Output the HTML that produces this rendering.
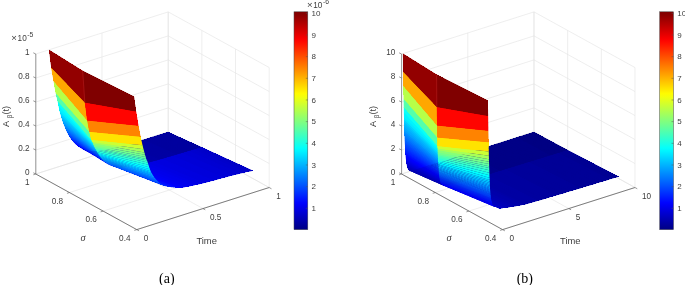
<!DOCTYPE html>
<html><head><meta charset="utf-8"><style>
html,body{margin:0;padding:0;background:#fff;}
body{width:685px;height:285px;overflow:hidden;}
svg{display:block;will-change:transform;}
</style></head><body>
<svg width="685" height="285" viewBox="0 0 685 285" font-family="Liberation Sans, sans-serif">
<defs><linearGradient id="jetg" x1="0" y1="0" x2="0" y2="1"><stop offset="0.0000" stop-color="#800000"/><stop offset="0.0156" stop-color="#8b0000"/><stop offset="0.0312" stop-color="#9b0000"/><stop offset="0.0469" stop-color="#ab0000"/><stop offset="0.0625" stop-color="#bb0000"/><stop offset="0.0781" stop-color="#cb0000"/><stop offset="0.0938" stop-color="#db0000"/><stop offset="0.1094" stop-color="#eb0000"/><stop offset="0.1250" stop-color="#fb0000"/><stop offset="0.1406" stop-color="#ff0c00"/><stop offset="0.1562" stop-color="#ff1c00"/><stop offset="0.1719" stop-color="#ff2c00"/><stop offset="0.1875" stop-color="#ff3c00"/><stop offset="0.2031" stop-color="#ff4c00"/><stop offset="0.2188" stop-color="#ff5c00"/><stop offset="0.2344" stop-color="#ff6c00"/><stop offset="0.2500" stop-color="#ff7c00"/><stop offset="0.2656" stop-color="#ff8b00"/><stop offset="0.2812" stop-color="#ff9b00"/><stop offset="0.2969" stop-color="#ffab00"/><stop offset="0.3125" stop-color="#ffbb00"/><stop offset="0.3281" stop-color="#ffcb00"/><stop offset="0.3438" stop-color="#ffdb00"/><stop offset="0.3594" stop-color="#ffeb00"/><stop offset="0.3750" stop-color="#fffb00"/><stop offset="0.3906" stop-color="#f3ff0c"/><stop offset="0.4062" stop-color="#e3ff1c"/><stop offset="0.4219" stop-color="#d3ff2c"/><stop offset="0.4375" stop-color="#c3ff3c"/><stop offset="0.4531" stop-color="#b3ff4c"/><stop offset="0.4688" stop-color="#a3ff5c"/><stop offset="0.4844" stop-color="#93ff6c"/><stop offset="0.5000" stop-color="#83ff7c"/><stop offset="0.5156" stop-color="#74ff8b"/><stop offset="0.5312" stop-color="#64ff9b"/><stop offset="0.5469" stop-color="#54ffab"/><stop offset="0.5625" stop-color="#44ffbb"/><stop offset="0.5781" stop-color="#34ffcb"/><stop offset="0.5938" stop-color="#24ffdb"/><stop offset="0.6094" stop-color="#14ffeb"/><stop offset="0.6250" stop-color="#04fffb"/><stop offset="0.6406" stop-color="#00f3ff"/><stop offset="0.6562" stop-color="#00e3ff"/><stop offset="0.6719" stop-color="#00d3ff"/><stop offset="0.6875" stop-color="#00c3ff"/><stop offset="0.7031" stop-color="#00b3ff"/><stop offset="0.7188" stop-color="#00a3ff"/><stop offset="0.7344" stop-color="#0093ff"/><stop offset="0.7500" stop-color="#0083ff"/><stop offset="0.7656" stop-color="#0074ff"/><stop offset="0.7812" stop-color="#0064ff"/><stop offset="0.7969" stop-color="#0054ff"/><stop offset="0.8125" stop-color="#0044ff"/><stop offset="0.8281" stop-color="#0034ff"/><stop offset="0.8438" stop-color="#0024ff"/><stop offset="0.8594" stop-color="#0014ff"/><stop offset="0.8750" stop-color="#0004ff"/><stop offset="0.8906" stop-color="#0000f3"/><stop offset="0.9062" stop-color="#0000e3"/><stop offset="0.9219" stop-color="#0000d3"/><stop offset="0.9375" stop-color="#0000c3"/><stop offset="0.9531" stop-color="#0000b3"/><stop offset="0.9688" stop-color="#0000a3"/><stop offset="0.9844" stop-color="#000093"/><stop offset="1.0000" stop-color="#000083"/></linearGradient></defs>
<g><line x1="136.78" y1="229.62" x2="35.80" y2="174.00" stroke="#e2e2e2" stroke-width="0.6"/><line x1="35.80" y1="174.00" x2="35.80" y2="54.00" stroke="#e2e2e2" stroke-width="0.6"/><line x1="202.98" y1="208.57" x2="102.00" y2="152.95" stroke="#e2e2e2" stroke-width="0.6"/><line x1="102.00" y1="152.95" x2="102.00" y2="32.95" stroke="#e2e2e2" stroke-width="0.6"/><line x1="269.18" y1="187.52" x2="168.20" y2="131.90" stroke="#e2e2e2" stroke-width="0.6"/><line x1="168.20" y1="131.90" x2="168.20" y2="11.90" stroke="#e2e2e2" stroke-width="0.6"/><line x1="136.78" y1="229.62" x2="269.18" y2="187.52" stroke="#e2e2e2" stroke-width="0.6"/><line x1="269.18" y1="187.52" x2="269.18" y2="67.52" stroke="#e2e2e2" stroke-width="0.6"/><line x1="103.12" y1="211.08" x2="235.52" y2="168.98" stroke="#e2e2e2" stroke-width="0.6"/><line x1="235.52" y1="168.98" x2="235.52" y2="48.98" stroke="#e2e2e2" stroke-width="0.6"/><line x1="69.46" y1="192.54" x2="201.86" y2="150.44" stroke="#e2e2e2" stroke-width="0.6"/><line x1="201.86" y1="150.44" x2="201.86" y2="30.44" stroke="#e2e2e2" stroke-width="0.6"/><line x1="35.80" y1="174.00" x2="168.20" y2="131.90" stroke="#e2e2e2" stroke-width="0.6"/><line x1="168.20" y1="131.90" x2="168.20" y2="11.90" stroke="#e2e2e2" stroke-width="0.6"/><line x1="35.80" y1="174.00" x2="168.20" y2="131.90" stroke="#e2e2e2" stroke-width="0.6"/><line x1="168.20" y1="131.90" x2="269.18" y2="187.52" stroke="#e2e2e2" stroke-width="0.6"/><line x1="35.80" y1="150.00" x2="168.20" y2="107.90" stroke="#e2e2e2" stroke-width="0.6"/><line x1="168.20" y1="107.90" x2="269.18" y2="163.52" stroke="#e2e2e2" stroke-width="0.6"/><line x1="35.80" y1="126.00" x2="168.20" y2="83.90" stroke="#e2e2e2" stroke-width="0.6"/><line x1="168.20" y1="83.90" x2="269.18" y2="139.52" stroke="#e2e2e2" stroke-width="0.6"/><line x1="35.80" y1="102.00" x2="168.20" y2="59.90" stroke="#e2e2e2" stroke-width="0.6"/><line x1="168.20" y1="59.90" x2="269.18" y2="115.52" stroke="#e2e2e2" stroke-width="0.6"/><line x1="35.80" y1="78.00" x2="168.20" y2="35.90" stroke="#e2e2e2" stroke-width="0.6"/><line x1="168.20" y1="35.90" x2="269.18" y2="91.52" stroke="#e2e2e2" stroke-width="0.6"/><line x1="35.80" y1="54.00" x2="168.20" y2="11.90" stroke="#e2e2e2" stroke-width="0.6"/><line x1="168.20" y1="11.90" x2="269.18" y2="67.52" stroke="#e2e2e2" stroke-width="0.6"/></g>
<g shape-rendering="crispEdges"><polygon points="200.73,147.54 167.07,132.24 168.20,131.88 201.86,147.20" fill="#00009b"/>
<polygon points="199.41,147.93 165.75,132.66 167.07,132.24 200.73,147.54" fill="#00009f"/>
<polygon points="198.09,148.33 164.43,133.07 165.75,132.66 199.41,147.93" fill="#00009f"/>
<polygon points="196.76,148.72 163.10,133.49 164.43,133.07 198.09,148.33" fill="#00009f"/>
<polygon points="195.44,149.12 161.78,133.91 163.10,133.49 196.76,148.72" fill="#00009f"/>
<polygon points="194.11,149.51 160.45,134.33 161.78,133.91 195.44,149.12" fill="#00009f"/>
<polygon points="192.79,149.91 159.13,134.75 160.45,134.33 194.11,149.51" fill="#00009f"/>
<polygon points="191.47,150.30 157.81,135.16 159.13,134.75 192.79,149.91" fill="#00009f"/>
<polygon points="190.14,150.70 156.48,135.58 157.81,135.16 191.47,150.30" fill="#00009f"/>
<polygon points="188.82,151.09 155.16,136.00 156.48,135.58 190.14,150.70" fill="#00009f"/>
<polygon points="187.49,151.49 153.83,136.41 155.16,136.00 188.82,151.09" fill="#00009f"/>
<polygon points="186.17,151.88 152.51,136.83 153.83,136.41 187.49,151.49" fill="#00009f"/>
<polygon points="184.85,152.27 151.19,137.24 152.51,136.83 186.17,151.88" fill="#00009f"/>
<polygon points="183.52,152.67 149.86,137.66 151.19,137.24 184.85,152.27" fill="#00009f"/>
<polygon points="182.20,153.06 148.54,138.07 149.86,137.66 183.52,152.67" fill="#00009f"/>
<polygon points="180.87,153.45 147.21,138.48 148.54,138.07 182.20,153.06" fill="#00009f"/>
<polygon points="179.55,153.85 145.89,138.90 147.21,138.48 180.87,153.45" fill="#00009f"/>
<polygon points="178.23,154.24 144.57,139.31 145.89,138.90 179.55,153.85" fill="#00009f"/>
<polygon points="176.90,154.63 143.24,139.72 144.57,139.31 178.23,154.24" fill="#00009f"/>
<polygon points="175.58,155.02 141.92,140.12 143.24,139.72 176.90,154.63" fill="#0000a3"/>
<polygon points="174.25,155.41 140.59,140.53 141.92,140.12 175.58,155.02" fill="#0000a3"/>
<polygon points="172.93,155.81 139.27,140.94 140.59,140.53 174.25,155.41" fill="#0000a3"/>
<polygon points="171.61,156.20 137.95,141.34 139.27,140.94 172.93,155.81" fill="#0000a3"/>
<polygon points="170.28,156.59 136.62,141.75 137.95,141.34 171.61,156.20" fill="#0000a3"/>
<polygon points="168.96,156.98 135.30,142.15 136.62,141.75 170.28,156.59" fill="#0000a3"/>
<polygon points="167.63,157.37 133.97,142.55 135.30,142.15 168.96,156.98" fill="#0000a3"/>
<polygon points="166.31,157.76 132.65,142.94 133.97,142.55 167.63,157.37" fill="#0000a3"/>
<polygon points="164.99,158.15 131.33,143.34 132.65,142.94 166.31,157.76" fill="#0000a3"/>
<polygon points="163.66,158.54 130.00,143.73 131.33,143.34 164.99,158.15" fill="#0000a3"/>
<polygon points="162.34,158.93 128.68,144.12 130.00,143.73 163.66,158.54" fill="#0000a3"/>
<polygon points="161.01,159.30 127.35,144.50 128.68,144.12 162.34,158.93" fill="#0000a3"/>
<polygon points="159.69,159.66 126.03,144.88 127.35,144.50 161.01,159.30" fill="#0000a3"/>
<polygon points="158.37,160.02 124.71,145.26 126.03,144.88 159.69,159.66" fill="#0000a7"/>
<polygon points="157.04,160.38 123.38,145.64 124.71,145.26 158.37,160.02" fill="#0000a7"/>
<polygon points="155.72,160.74 122.06,146.00 123.38,145.64 157.04,160.38" fill="#0000a7"/>
<polygon points="154.39,161.10 120.73,146.37 122.06,146.00 155.72,160.74" fill="#0000a7"/>
<polygon points="153.07,161.46 119.41,146.72 120.73,146.37 154.39,161.10" fill="#0000a7"/>
<polygon points="151.75,161.82 118.09,147.08 119.41,146.72 153.07,161.46" fill="#0000a7"/>
<polygon points="150.42,162.17 116.76,147.42 118.09,147.08 151.75,161.82" fill="#0000a7"/>
<polygon points="149.10,162.53 115.44,147.75 116.76,147.42 150.42,162.17" fill="#0000a7"/>
<polygon points="147.77,162.88 114.11,148.08 115.44,147.75 149.10,162.53" fill="#0000ab"/>
<polygon points="146.45,163.24 112.79,148.40 114.11,148.08 147.77,162.88" fill="#0000ab"/>
<polygon points="145.13,163.59 111.47,148.70 112.79,148.40 146.45,163.24" fill="#0000ab"/>
<polygon points="143.80,163.94 110.14,149.00 111.47,148.70 145.13,163.59" fill="#0000ab"/>
<polygon points="142.48,164.29 108.82,149.28 110.14,149.00 143.80,163.94" fill="#0000ab"/>
<polygon points="141.15,164.57 107.49,149.55 108.82,149.28 142.48,164.29" fill="#0000af"/>
<polygon points="139.83,164.83 106.17,149.80 107.49,149.55 141.15,164.57" fill="#0000af"/>
<polygon points="138.51,165.09 104.85,150.03 106.17,149.80 139.83,164.83" fill="#0000af"/>
<polygon points="137.18,165.35 103.52,150.25 104.85,150.03 138.51,165.09" fill="#0000b3"/>
<polygon points="135.86,165.59 102.20,150.44 103.52,150.25 137.18,165.35" fill="#0000b3"/>
<polygon points="134.53,165.84 100.87,150.61 102.20,150.44 135.86,165.59" fill="#0000b3"/>
<polygon points="133.21,166.07 99.55,150.76 100.87,150.61 134.53,165.84" fill="#0000b7"/>
<polygon points="131.89,166.30 98.23,150.88 99.55,150.76 133.21,166.07" fill="#0000b7"/>
<polygon points="130.56,166.53 96.90,150.96 98.23,150.88 131.89,166.30" fill="#0000bb"/>
<polygon points="129.24,166.75 95.58,151.02 96.90,150.96 130.56,166.53" fill="#0000bb"/>
<polygon points="252.07,171.01 200.73,147.54 201.86,147.20 253.19,170.79" fill="#0000c7"/>
<polygon points="127.91,166.96 94.25,151.04 95.58,151.02 129.24,166.75" fill="#0000bb"/>
<polygon points="250.74,171.27 199.41,147.93 200.73,147.54 252.07,171.01" fill="#0000c7"/>
<polygon points="126.59,167.17 92.93,151.01 94.25,151.04 127.91,166.96" fill="#0000bf"/>
<polygon points="249.42,171.52 198.09,148.33 199.41,147.93 250.74,171.27" fill="#0000c7"/>
<polygon points="125.27,167.37 91.61,150.94 92.93,151.01 126.59,167.17" fill="#0000bf"/>
<polygon points="248.09,171.78 196.76,148.72 198.09,148.33 249.42,171.52" fill="#0000cb"/>
<polygon points="123.94,167.57 90.28,150.82 91.61,150.94 125.27,167.37" fill="#0000c3"/>
<polygon points="246.77,172.02 195.44,149.12 196.76,148.72 248.09,171.78" fill="#0000cb"/>
<polygon points="122.62,167.75 88.96,150.65 90.28,150.82 123.94,167.57" fill="#0000c3"/>
<polygon points="121.89,167.74 88.23,150.53 88.96,150.65 122.62,167.75" fill="#0000c7"/>
<polygon points="245.45,172.33 194.11,149.51 195.44,149.12 246.77,172.02" fill="#0000cb"/>
<polygon points="121.16,167.68 87.50,150.40 88.23,150.53 121.89,167.74" fill="#0000c7"/>
<polygon points="244.12,172.65 192.79,149.91 194.11,149.51 245.45,172.33" fill="#0000cf"/>
<polygon points="120.43,167.62 86.77,150.24 87.50,150.40 121.16,167.68" fill="#0000cb"/>
<polygon points="119.71,167.54 86.05,150.06 86.77,150.24 120.43,167.62" fill="#0000cf"/>
<polygon points="242.80,172.96 191.47,150.30 192.79,149.91 244.12,172.65" fill="#0000cf"/>
<polygon points="118.98,167.44 85.32,149.86 86.05,150.06 119.71,167.54" fill="#0000cf"/>
<polygon points="118.25,167.34 84.59,149.64 85.32,149.86 118.98,167.44" fill="#0000d3"/>
<polygon points="241.47,173.28 190.14,150.70 191.47,150.30 242.80,172.96" fill="#0000cf"/>
<polygon points="117.52,167.23 83.86,149.39 84.59,149.64 118.25,167.34" fill="#0000d7"/>
<polygon points="116.79,167.10 83.13,149.12 83.86,149.39 117.52,167.23" fill="#0000db"/>
<polygon points="240.15,173.59 188.82,151.09 190.14,150.70 241.47,173.28" fill="#0000cf"/>
<polygon points="116.06,166.96 82.40,148.82 83.13,149.12 116.79,167.10" fill="#0000db"/>
<polygon points="115.34,166.81 81.68,148.48 82.40,148.82 116.06,166.96" fill="#0000df"/>
<polygon points="238.83,173.90 187.49,151.49 188.82,151.09 240.15,173.59" fill="#0000d3"/>
<polygon points="114.61,166.64 80.95,148.11 81.68,148.48 115.34,166.81" fill="#0000e3"/>
<polygon points="113.88,166.46 80.22,147.69 80.95,148.11 114.61,166.64" fill="#0000e7"/>
<polygon points="237.50,174.22 186.17,151.88 187.49,151.49 238.83,173.90" fill="#0000d3"/>
<polygon points="113.15,166.26 79.49,147.25 80.22,147.69 113.88,166.46" fill="#0000eb"/>
<polygon points="236.18,174.53 184.85,152.27 186.17,151.88 237.50,174.22" fill="#0000d3"/>
<polygon points="112.42,166.05 78.76,146.76 79.49,147.25 113.15,166.26" fill="#0000ef"/>
<polygon points="111.70,165.82 78.04,146.24 78.76,146.76 112.42,166.05" fill="#0000f3"/>
<polygon points="234.85,174.84 183.52,152.67 184.85,152.27 236.18,174.53" fill="#0000d3"/>
<polygon points="110.97,165.58 77.31,145.67 78.04,146.24 111.70,165.82" fill="#0000f7"/>
<polygon points="110.24,165.32 76.58,145.06 77.31,145.67 110.97,165.58" fill="#0000fb"/>
<polygon points="233.53,175.14 182.20,153.06 183.52,152.67 234.85,174.84" fill="#0000d3"/>
<polygon points="109.51,165.04 75.85,144.41 76.58,145.06 110.24,165.32" fill="#0000ff"/>
<polygon points="108.78,164.67 75.12,143.71 75.85,144.41 109.51,165.04" fill="#0004ff"/>
<polygon points="232.21,175.49 180.87,153.45 182.20,153.06 233.53,175.14" fill="#0000d7"/>
<polygon points="108.05,164.22 74.39,142.97 75.12,143.71 108.78,164.67" fill="#000cff"/>
<polygon points="107.33,163.73 73.67,142.19 74.39,142.97 108.05,164.22" fill="#0010ff"/>
<polygon points="230.88,175.85 179.55,153.85 180.87,153.45 232.21,175.49" fill="#0000d7"/>
<polygon points="106.60,163.22 72.94,141.34 73.67,142.19 107.33,163.73" fill="#0018ff"/>
<polygon points="229.56,176.21 178.23,154.24 179.55,153.85 230.88,175.85" fill="#0000d7"/>
<polygon points="105.87,162.66 72.21,140.44 72.94,141.34 106.60,163.22" fill="#0020ff"/>
<polygon points="105.14,162.08 71.48,139.48 72.21,140.44 105.87,162.66" fill="#0024ff"/>
<polygon points="228.23,176.56 176.90,154.63 178.23,154.24 229.56,176.21" fill="#0000d7"/>
<polygon points="104.41,161.46 70.75,138.45 71.48,139.48 105.14,162.08" fill="#002cff"/>
<polygon points="103.69,160.80 70.03,137.35 70.75,138.45 104.41,161.46" fill="#0034ff"/>
<polygon points="226.91,176.92 175.58,155.02 176.90,154.63 228.23,176.56" fill="#0000d7"/>
<polygon points="102.96,160.09 69.30,136.18 70.03,137.35 103.69,160.80" fill="#003cff"/>
<polygon points="102.23,159.32 68.57,134.93 69.30,136.18 102.96,160.09" fill="#0044ff"/>
<polygon points="225.59,177.27 174.25,155.41 175.58,155.02 226.91,176.92" fill="#0000d7"/>
<polygon points="101.50,158.47 67.84,133.59 68.57,134.93 102.23,159.32" fill="#004cff"/>
<polygon points="100.77,157.57 67.11,132.16 67.84,133.59 101.50,158.47" fill="#0058ff"/>
<polygon points="224.26,177.63 172.93,155.81 174.25,155.41 225.59,177.27" fill="#0000d7"/>
<polygon points="100.04,156.61 66.38,130.64 67.11,132.16 100.77,157.57" fill="#0060ff"/>
<polygon points="99.32,155.59 65.66,129.02 66.38,130.64 100.04,156.61" fill="#006cff"/>
<polygon points="222.94,177.98 171.61,156.20 172.93,155.81 224.26,177.63" fill="#0000db"/>
<polygon points="98.59,154.52 64.93,127.30 65.66,129.02 99.32,155.59" fill="#0078ff"/>
<polygon points="221.61,178.34 170.28,156.59 171.61,156.20 222.94,177.98" fill="#0000db"/>
<polygon points="97.86,153.38 64.20,125.47 64.93,127.30 98.59,154.52" fill="#0083ff"/>
<polygon points="97.13,152.18 63.47,123.53 64.20,125.47 97.86,153.38" fill="#008fff"/>
<polygon points="220.29,178.69 168.96,156.98 170.28,156.59 221.61,178.34" fill="#0000db"/>
<polygon points="96.40,150.61 62.74,121.48 63.47,123.53 97.13,152.18" fill="#009fff"/>
<polygon points="95.68,149.16 62.02,119.29 62.74,121.48 96.40,150.61" fill="#00abff"/>
<polygon points="218.97,179.05 167.63,157.37 168.96,156.98 220.29,178.69" fill="#0000db"/>
<polygon points="94.95,148.08 61.29,116.99 62.02,119.29 95.68,149.16" fill="#00b7ff"/>
<polygon points="94.32,146.83 60.66,114.91 61.29,116.99 94.95,148.08" fill="#00c3ff"/>
<polygon points="217.64,179.41 166.31,157.76 167.63,157.37 218.97,179.05" fill="#0000db"/>
<polygon points="93.69,145.24 60.03,112.68 60.66,114.91 94.32,146.83" fill="#00d3ff"/>
<polygon points="93.08,143.27 59.42,110.28 60.03,112.68 93.69,145.24" fill="#00e7ff"/>
<polygon points="216.32,179.78 164.99,158.15 166.31,157.76 217.64,179.41" fill="#0000db"/>
<polygon points="92.17,141.88 58.51,106.01 59.42,110.28 93.08,143.27" fill="#00f3ff"/>
<polygon points="214.99,180.14 163.66,158.54 164.99,158.15 216.32,179.78" fill="#0000db"/>
<polygon points="91.20,139.79 57.54,101.09 58.51,106.01 92.17,141.88" fill="#08fff7"/>
<polygon points="213.67,180.50 162.34,158.93 163.66,158.54 214.99,180.14" fill="#0000db"/>
<polygon points="89.28,131.76 55.62,93.06 57.54,101.09 91.20,139.79" fill="#54ffab"/>
<polygon points="212.35,180.87 161.01,159.30 162.34,158.93 213.67,180.50" fill="#0000df"/>
<polygon points="87.18,120.55 53.52,81.01 55.62,93.06 89.28,131.76" fill="#b7ff48"/>
<polygon points="211.02,181.23 159.69,159.66 161.01,159.30 212.35,180.87" fill="#0000df"/>
<polygon points="209.70,181.60 158.37,160.02 159.69,159.66 211.02,181.23" fill="#0000df"/>
<polygon points="84.82,102.58 51.16,67.48 53.52,81.01 87.18,120.55" fill="#ffa700"/>
<polygon points="208.37,181.96 157.04,160.38 158.37,160.02 209.70,181.60" fill="#0000df"/>
<polygon points="82.70,70.73 49.04,49.79 51.16,67.48 84.82,102.58" fill="#930000"/>
<polygon points="207.05,182.32 155.72,160.74 157.04,160.38 208.37,181.96" fill="#0000df"/>
<polygon points="205.73,182.68 154.39,161.10 155.72,160.74 207.05,182.32" fill="#0000df"/>
<polygon points="204.40,183.03 153.07,161.46 154.39,161.10 205.73,182.68" fill="#0000df"/>
<polygon points="203.08,183.33 151.75,161.82 153.07,161.46 204.40,183.03" fill="#0000e3"/>
<polygon points="201.75,183.63 150.42,162.17 151.75,161.82 203.08,183.33" fill="#0000e3"/>
<polygon points="200.43,183.93 149.10,162.53 150.42,162.17 201.75,183.63" fill="#0000e3"/>
<polygon points="199.11,184.22 147.77,162.88 149.10,162.53 200.43,183.93" fill="#0000e3"/>
<polygon points="197.78,184.52 146.45,163.24 147.77,162.88 199.11,184.22" fill="#0000e7"/>
<polygon points="196.46,184.81 145.13,163.59 146.45,163.24 197.78,184.52" fill="#0000e7"/>
<polygon points="195.13,185.11 143.80,163.94 145.13,163.59 196.46,184.81" fill="#0000e7"/>
<polygon points="193.81,185.40 142.48,164.29 143.80,163.94 195.13,185.11" fill="#0000eb"/>
<polygon points="192.49,185.69 141.15,164.57 142.48,164.29 193.81,185.40" fill="#0000eb"/>
<polygon points="191.16,185.98 139.83,164.83 141.15,164.57 192.49,185.69" fill="#0000eb"/>
<polygon points="189.84,186.25 138.51,165.09 139.83,164.83 191.16,185.98" fill="#0000eb"/>
<polygon points="188.51,186.51 137.18,165.35 138.51,165.09 189.84,186.25" fill="#0000ef"/>
<polygon points="187.19,186.77 135.86,165.59 137.18,165.35 188.51,186.51" fill="#0000ef"/>
<polygon points="185.87,187.03 134.53,165.84 135.86,165.59 187.19,186.77" fill="#0000ef"/>
<polygon points="184.54,187.29 133.21,166.07 134.53,165.84 185.87,187.03" fill="#0000f3"/>
<polygon points="183.22,187.55 131.89,166.30 133.21,166.07 184.54,187.29" fill="#0000f3"/>
<polygon points="181.89,187.76 130.56,166.53 131.89,166.30 183.22,187.55" fill="#0000f7"/>
<polygon points="180.57,187.74 129.24,166.75 130.56,166.53 181.89,187.76" fill="#0000f7"/>
<polygon points="179.25,187.71 127.91,166.96 129.24,166.75 180.57,187.74" fill="#0000fb"/>
<polygon points="177.92,187.67 126.59,167.17 127.91,166.96 179.25,187.71" fill="#0000ff"/>
<polygon points="176.60,187.61 125.27,167.37 126.59,167.17 177.92,187.67" fill="#0004ff"/>
<polygon points="175.27,187.54 123.94,167.57 125.27,167.37 176.60,187.61" fill="#000cff"/>
<polygon points="173.95,187.45 122.62,167.75 123.94,167.57 175.27,187.54" fill="#0010ff"/>
<polygon points="173.22,187.39 121.89,167.74 122.62,167.75 173.95,187.45" fill="#0010ff"/>
<polygon points="172.49,187.33 121.16,167.68 121.89,167.74 173.22,187.39" fill="#0014ff"/>
<polygon points="171.77,187.26 120.43,167.62 121.16,167.68 172.49,187.33" fill="#0018ff"/>
<polygon points="171.04,187.17 119.71,167.54 120.43,167.62 171.77,187.26" fill="#0018ff"/>
<polygon points="170.31,187.06 118.98,167.44 119.71,167.54 171.04,187.17" fill="#001cff"/>
<polygon points="169.58,186.96 118.25,167.34 118.98,167.44 170.31,187.06" fill="#0020ff"/>
<polygon points="168.85,186.84 117.52,167.23 118.25,167.34 169.58,186.96" fill="#0020ff"/>
<polygon points="168.12,186.72 116.79,167.10 117.52,167.23 168.85,186.84" fill="#0024ff"/>
<polygon points="167.40,186.59 116.06,166.96 116.79,167.10 168.12,186.72" fill="#0028ff"/>
<polygon points="166.67,186.45 115.34,166.81 116.06,166.96 167.40,186.59" fill="#002cff"/>
<polygon points="165.94,186.31 114.61,166.64 115.34,166.81 166.67,186.45" fill="#002cff"/>
<polygon points="165.21,186.16 113.88,166.46 114.61,166.64 165.94,186.31" fill="#0030ff"/>
<polygon points="164.48,186.00 113.15,166.26 113.88,166.46 165.21,186.16" fill="#0034ff"/>
<polygon points="163.76,185.84 112.42,166.05 113.15,166.26 164.48,186.00" fill="#0038ff"/>
<polygon points="163.03,185.58 111.70,165.82 112.42,166.05 163.76,185.84" fill="#003cff"/>
<polygon points="162.30,185.09 110.97,165.58 111.70,165.82 163.03,185.58" fill="#0044ff"/>
<polygon points="161.57,184.58 110.24,165.32 110.97,165.58 162.30,185.09" fill="#0048ff"/>
<polygon points="160.84,184.04 109.51,165.04 110.24,165.32 161.57,184.58" fill="#0050ff"/>
<polygon points="160.11,183.47 108.78,164.67 109.51,165.04 160.84,184.04" fill="#0054ff"/>
<polygon points="159.39,182.88 108.05,164.22 108.78,164.67 160.11,183.47" fill="#005cff"/>
<polygon points="158.66,182.24 107.33,163.73 108.05,164.22 159.39,182.88" fill="#0064ff"/>
<polygon points="157.93,181.55 106.60,163.22 107.33,163.73 158.66,182.24" fill="#006cff"/>
<polygon points="157.20,180.82 105.87,162.66 106.60,163.22 157.93,181.55" fill="#0074ff"/>
<polygon points="156.47,180.06 105.14,162.08 105.87,162.66 157.20,180.82" fill="#007cff"/>
<polygon points="155.75,179.25 104.41,161.46 105.14,162.08 156.47,180.06" fill="#0083ff"/>
<polygon points="155.02,178.34 103.69,160.80 104.41,161.46 155.75,179.25" fill="#008fff"/>
<polygon points="154.29,177.38 102.96,160.09 103.69,160.80 155.02,178.34" fill="#0097ff"/>
<polygon points="153.56,176.37 102.23,159.32 102.96,160.09 154.29,177.38" fill="#00a3ff"/>
<polygon points="152.83,175.32 101.50,158.47 102.23,159.32 153.56,176.37" fill="#00afff"/>
<polygon points="152.10,174.09 100.77,157.57 101.50,158.47 152.83,175.32" fill="#00bbff"/>
<polygon points="151.38,172.76 100.04,156.61 100.77,157.57 152.10,174.09" fill="#00c7ff"/>
<polygon points="150.65,171.36 99.32,155.59 100.04,156.61 151.38,172.76" fill="#00d7ff"/>
<polygon points="149.92,169.31 98.59,154.52 99.32,155.59 150.65,171.36" fill="#00ebff"/>
<polygon points="149.19,167.14 97.86,153.38 98.59,154.52 149.92,169.31" fill="#00ffff"/>
<polygon points="148.46,164.73 97.13,152.18 97.86,153.38 149.19,167.14" fill="#14ffeb"/>
<polygon points="147.73,162.57 96.40,150.61 97.13,152.18 148.46,164.73" fill="#28ffd7"/>
<polygon points="147.01,160.52 95.68,149.16 96.40,150.61 147.73,162.57" fill="#3cffc3"/>
<polygon points="146.28,159.07 94.95,148.08 95.68,149.16 147.01,160.52" fill="#4cffb3"/>
<polygon points="145.66,156.99 94.32,146.83 94.95,148.08 146.28,159.07" fill="#60ff9f"/>
<polygon points="145.02,154.79 93.69,145.24 94.32,146.83 145.66,156.99" fill="#74ff8b"/>
<polygon points="144.41,152.58 93.08,143.27 93.69,145.24 145.02,154.79" fill="#87ff78"/>
<polygon points="143.50,149.15 92.17,141.88 93.08,143.27 144.41,152.58" fill="#a7ff58"/>
<polygon points="142.53,145.26 91.20,139.79 92.17,141.88 143.50,149.15" fill="#cbff34"/>
<polygon points="140.61,136.63 89.28,131.76 91.20,139.79 142.53,145.26" fill="#ffe300"/>
<polygon points="138.51,125.78 87.18,120.55 89.28,131.76 140.61,136.63" fill="#ff8300"/>
<polygon points="136.15,111.53 84.82,102.58 87.18,120.55 138.51,125.78" fill="#ff0400"/>
<polygon points="134.03,96.60 82.70,70.73 84.82,102.58 136.15,111.53" fill="#800000"/></g>
<g><polygon points="200.73,147.54 167.07,132.24 168.20,131.88 201.86,147.20" fill="#00009b"/>
<polygon points="199.41,147.93 165.75,132.66 167.07,132.24 200.73,147.54" fill="#00009f"/>
<polygon points="198.09,148.33 164.43,133.07 165.75,132.66 199.41,147.93" fill="#00009f"/>
<polygon points="196.76,148.72 163.10,133.49 164.43,133.07 198.09,148.33" fill="#00009f"/>
<polygon points="195.44,149.12 161.78,133.91 163.10,133.49 196.76,148.72" fill="#00009f"/>
<polygon points="194.11,149.51 160.45,134.33 161.78,133.91 195.44,149.12" fill="#00009f"/>
<polygon points="192.79,149.91 159.13,134.75 160.45,134.33 194.11,149.51" fill="#00009f"/>
<polygon points="191.47,150.30 157.81,135.16 159.13,134.75 192.79,149.91" fill="#00009f"/>
<polygon points="190.14,150.70 156.48,135.58 157.81,135.16 191.47,150.30" fill="#00009f"/>
<polygon points="188.82,151.09 155.16,136.00 156.48,135.58 190.14,150.70" fill="#00009f"/>
<polygon points="187.49,151.49 153.83,136.41 155.16,136.00 188.82,151.09" fill="#00009f"/>
<polygon points="186.17,151.88 152.51,136.83 153.83,136.41 187.49,151.49" fill="#00009f"/>
<polygon points="184.85,152.27 151.19,137.24 152.51,136.83 186.17,151.88" fill="#00009f"/>
<polygon points="183.52,152.67 149.86,137.66 151.19,137.24 184.85,152.27" fill="#00009f"/>
<polygon points="182.20,153.06 148.54,138.07 149.86,137.66 183.52,152.67" fill="#00009f"/>
<polygon points="180.87,153.45 147.21,138.48 148.54,138.07 182.20,153.06" fill="#00009f"/>
<polygon points="179.55,153.85 145.89,138.90 147.21,138.48 180.87,153.45" fill="#00009f"/>
<polygon points="178.23,154.24 144.57,139.31 145.89,138.90 179.55,153.85" fill="#00009f"/>
<polygon points="176.90,154.63 143.24,139.72 144.57,139.31 178.23,154.24" fill="#00009f"/>
<polygon points="175.58,155.02 141.92,140.12 143.24,139.72 176.90,154.63" fill="#0000a3"/>
<polygon points="174.25,155.41 140.59,140.53 141.92,140.12 175.58,155.02" fill="#0000a3"/>
<polygon points="172.93,155.81 139.27,140.94 140.59,140.53 174.25,155.41" fill="#0000a3"/>
<polygon points="171.61,156.20 137.95,141.34 139.27,140.94 172.93,155.81" fill="#0000a3"/>
<polygon points="170.28,156.59 136.62,141.75 137.95,141.34 171.61,156.20" fill="#0000a3"/>
<polygon points="168.96,156.98 135.30,142.15 136.62,141.75 170.28,156.59" fill="#0000a3"/>
<polygon points="167.63,157.37 133.97,142.55 135.30,142.15 168.96,156.98" fill="#0000a3"/>
<polygon points="166.31,157.76 132.65,142.94 133.97,142.55 167.63,157.37" fill="#0000a3"/>
<polygon points="164.99,158.15 131.33,143.34 132.65,142.94 166.31,157.76" fill="#0000a3"/>
<polygon points="163.66,158.54 130.00,143.73 131.33,143.34 164.99,158.15" fill="#0000a3"/>
<polygon points="162.34,158.93 128.68,144.12 130.00,143.73 163.66,158.54" fill="#0000a3"/>
<polygon points="161.01,159.30 127.35,144.50 128.68,144.12 162.34,158.93" fill="#0000a3"/>
<polygon points="159.69,159.66 126.03,144.88 127.35,144.50 161.01,159.30" fill="#0000a3"/>
<polygon points="158.37,160.02 124.71,145.26 126.03,144.88 159.69,159.66" fill="#0000a7"/>
<polygon points="157.04,160.38 123.38,145.64 124.71,145.26 158.37,160.02" fill="#0000a7"/>
<polygon points="155.72,160.74 122.06,146.00 123.38,145.64 157.04,160.38" fill="#0000a7"/>
<polygon points="154.39,161.10 120.73,146.37 122.06,146.00 155.72,160.74" fill="#0000a7"/>
<polygon points="153.07,161.46 119.41,146.72 120.73,146.37 154.39,161.10" fill="#0000a7"/>
<polygon points="151.75,161.82 118.09,147.08 119.41,146.72 153.07,161.46" fill="#0000a7"/>
<polygon points="150.42,162.17 116.76,147.42 118.09,147.08 151.75,161.82" fill="#0000a7"/>
<polygon points="149.10,162.53 115.44,147.75 116.76,147.42 150.42,162.17" fill="#0000a7"/>
<polygon points="147.77,162.88 114.11,148.08 115.44,147.75 149.10,162.53" fill="#0000ab"/>
<polygon points="146.45,163.24 112.79,148.40 114.11,148.08 147.77,162.88" fill="#0000ab"/>
<polygon points="145.13,163.59 111.47,148.70 112.79,148.40 146.45,163.24" fill="#0000ab"/>
<polygon points="143.80,163.94 110.14,149.00 111.47,148.70 145.13,163.59" fill="#0000ab"/>
<polygon points="142.48,164.29 108.82,149.28 110.14,149.00 143.80,163.94" fill="#0000ab"/>
<polygon points="141.15,164.57 107.49,149.55 108.82,149.28 142.48,164.29" fill="#0000af"/>
<polygon points="139.83,164.83 106.17,149.80 107.49,149.55 141.15,164.57" fill="#0000af"/>
<polygon points="138.51,165.09 104.85,150.03 106.17,149.80 139.83,164.83" fill="#0000af"/>
<polygon points="137.18,165.35 103.52,150.25 104.85,150.03 138.51,165.09" fill="#0000b3"/>
<polygon points="135.86,165.59 102.20,150.44 103.52,150.25 137.18,165.35" fill="#0000b3"/>
<polygon points="134.53,165.84 100.87,150.61 102.20,150.44 135.86,165.59" fill="#0000b3"/>
<polygon points="133.21,166.07 99.55,150.76 100.87,150.61 134.53,165.84" fill="#0000b7"/>
<polygon points="131.89,166.30 98.23,150.88 99.55,150.76 133.21,166.07" fill="#0000b7"/>
<polygon points="130.56,166.53 96.90,150.96 98.23,150.88 131.89,166.30" fill="#0000bb"/>
<polygon points="129.24,166.75 95.58,151.02 96.90,150.96 130.56,166.53" fill="#0000bb"/>
<polygon points="252.07,171.01 200.73,147.54 201.86,147.20 253.19,170.79" fill="#0000c7"/>
<polygon points="127.91,166.96 94.25,151.04 95.58,151.02 129.24,166.75" fill="#0000bb"/>
<polygon points="250.74,171.27 199.41,147.93 200.73,147.54 252.07,171.01" fill="#0000c7"/>
<polygon points="126.59,167.17 92.93,151.01 94.25,151.04 127.91,166.96" fill="#0000bf"/>
<polygon points="249.42,171.52 198.09,148.33 199.41,147.93 250.74,171.27" fill="#0000c7"/>
<polygon points="125.27,167.37 91.61,150.94 92.93,151.01 126.59,167.17" fill="#0000bf"/>
<polygon points="248.09,171.78 196.76,148.72 198.09,148.33 249.42,171.52" fill="#0000cb"/>
<polygon points="123.94,167.57 90.28,150.82 91.61,150.94 125.27,167.37" fill="#0000c3"/>
<polygon points="246.77,172.02 195.44,149.12 196.76,148.72 248.09,171.78" fill="#0000cb"/>
<polygon points="122.62,167.75 88.96,150.65 90.28,150.82 123.94,167.57" fill="#0000c3"/>
<polygon points="121.89,167.74 88.23,150.53 88.96,150.65 122.62,167.75" fill="#0000c7"/>
<polygon points="245.45,172.33 194.11,149.51 195.44,149.12 246.77,172.02" fill="#0000cb"/>
<polygon points="121.16,167.68 87.50,150.40 88.23,150.53 121.89,167.74" fill="#0000c7"/>
<polygon points="244.12,172.65 192.79,149.91 194.11,149.51 245.45,172.33" fill="#0000cf"/>
<polygon points="120.43,167.62 86.77,150.24 87.50,150.40 121.16,167.68" fill="#0000cb"/>
<polygon points="119.71,167.54 86.05,150.06 86.77,150.24 120.43,167.62" fill="#0000cf"/>
<polygon points="242.80,172.96 191.47,150.30 192.79,149.91 244.12,172.65" fill="#0000cf"/>
<polygon points="118.98,167.44 85.32,149.86 86.05,150.06 119.71,167.54" fill="#0000cf"/>
<polygon points="118.25,167.34 84.59,149.64 85.32,149.86 118.98,167.44" fill="#0000d3"/>
<polygon points="241.47,173.28 190.14,150.70 191.47,150.30 242.80,172.96" fill="#0000cf"/>
<polygon points="117.52,167.23 83.86,149.39 84.59,149.64 118.25,167.34" fill="#0000d7"/>
<polygon points="116.79,167.10 83.13,149.12 83.86,149.39 117.52,167.23" fill="#0000db"/>
<polygon points="240.15,173.59 188.82,151.09 190.14,150.70 241.47,173.28" fill="#0000cf"/>
<polygon points="116.06,166.96 82.40,148.82 83.13,149.12 116.79,167.10" fill="#0000db"/>
<polygon points="115.34,166.81 81.68,148.48 82.40,148.82 116.06,166.96" fill="#0000df"/>
<polygon points="238.83,173.90 187.49,151.49 188.82,151.09 240.15,173.59" fill="#0000d3"/>
<polygon points="114.61,166.64 80.95,148.11 81.68,148.48 115.34,166.81" fill="#0000e3"/>
<polygon points="113.88,166.46 80.22,147.69 80.95,148.11 114.61,166.64" fill="#0000e7"/>
<polygon points="237.50,174.22 186.17,151.88 187.49,151.49 238.83,173.90" fill="#0000d3"/>
<polygon points="113.15,166.26 79.49,147.25 80.22,147.69 113.88,166.46" fill="#0000eb"/>
<polygon points="236.18,174.53 184.85,152.27 186.17,151.88 237.50,174.22" fill="#0000d3"/>
<polygon points="112.42,166.05 78.76,146.76 79.49,147.25 113.15,166.26" fill="#0000ef"/>
<polygon points="111.70,165.82 78.04,146.24 78.76,146.76 112.42,166.05" fill="#0000f3"/>
<polygon points="234.85,174.84 183.52,152.67 184.85,152.27 236.18,174.53" fill="#0000d3"/>
<polygon points="110.97,165.58 77.31,145.67 78.04,146.24 111.70,165.82" fill="#0000f7"/>
<polygon points="110.24,165.32 76.58,145.06 77.31,145.67 110.97,165.58" fill="#0000fb"/>
<polygon points="233.53,175.14 182.20,153.06 183.52,152.67 234.85,174.84" fill="#0000d3"/>
<polygon points="109.51,165.04 75.85,144.41 76.58,145.06 110.24,165.32" fill="#0000ff"/>
<polygon points="108.78,164.67 75.12,143.71 75.85,144.41 109.51,165.04" fill="#0004ff"/>
<polygon points="232.21,175.49 180.87,153.45 182.20,153.06 233.53,175.14" fill="#0000d7"/>
<polygon points="108.05,164.22 74.39,142.97 75.12,143.71 108.78,164.67" fill="#000cff"/>
<polygon points="107.33,163.73 73.67,142.19 74.39,142.97 108.05,164.22" fill="#0010ff"/>
<polygon points="230.88,175.85 179.55,153.85 180.87,153.45 232.21,175.49" fill="#0000d7"/>
<polygon points="106.60,163.22 72.94,141.34 73.67,142.19 107.33,163.73" fill="#0018ff"/>
<polygon points="229.56,176.21 178.23,154.24 179.55,153.85 230.88,175.85" fill="#0000d7"/>
<polygon points="105.87,162.66 72.21,140.44 72.94,141.34 106.60,163.22" fill="#0020ff"/>
<polygon points="105.14,162.08 71.48,139.48 72.21,140.44 105.87,162.66" fill="#0024ff"/>
<polygon points="228.23,176.56 176.90,154.63 178.23,154.24 229.56,176.21" fill="#0000d7"/>
<polygon points="104.41,161.46 70.75,138.45 71.48,139.48 105.14,162.08" fill="#002cff"/>
<polygon points="103.69,160.80 70.03,137.35 70.75,138.45 104.41,161.46" fill="#0034ff"/>
<polygon points="226.91,176.92 175.58,155.02 176.90,154.63 228.23,176.56" fill="#0000d7"/>
<polygon points="102.96,160.09 69.30,136.18 70.03,137.35 103.69,160.80" fill="#003cff"/>
<polygon points="102.23,159.32 68.57,134.93 69.30,136.18 102.96,160.09" fill="#0044ff"/>
<polygon points="225.59,177.27 174.25,155.41 175.58,155.02 226.91,176.92" fill="#0000d7"/>
<polygon points="101.50,158.47 67.84,133.59 68.57,134.93 102.23,159.32" fill="#004cff"/>
<polygon points="100.77,157.57 67.11,132.16 67.84,133.59 101.50,158.47" fill="#0058ff"/>
<polygon points="224.26,177.63 172.93,155.81 174.25,155.41 225.59,177.27" fill="#0000d7"/>
<polygon points="100.04,156.61 66.38,130.64 67.11,132.16 100.77,157.57" fill="#0060ff"/>
<polygon points="99.32,155.59 65.66,129.02 66.38,130.64 100.04,156.61" fill="#006cff"/>
<polygon points="222.94,177.98 171.61,156.20 172.93,155.81 224.26,177.63" fill="#0000db"/>
<polygon points="98.59,154.52 64.93,127.30 65.66,129.02 99.32,155.59" fill="#0078ff"/>
<polygon points="221.61,178.34 170.28,156.59 171.61,156.20 222.94,177.98" fill="#0000db"/>
<polygon points="97.86,153.38 64.20,125.47 64.93,127.30 98.59,154.52" fill="#0083ff"/>
<polygon points="97.13,152.18 63.47,123.53 64.20,125.47 97.86,153.38" fill="#008fff"/>
<polygon points="220.29,178.69 168.96,156.98 170.28,156.59 221.61,178.34" fill="#0000db"/>
<polygon points="96.40,150.61 62.74,121.48 63.47,123.53 97.13,152.18" fill="#009fff"/>
<polygon points="95.68,149.16 62.02,119.29 62.74,121.48 96.40,150.61" fill="#00abff"/>
<polygon points="218.97,179.05 167.63,157.37 168.96,156.98 220.29,178.69" fill="#0000db"/>
<polygon points="94.95,148.08 61.29,116.99 62.02,119.29 95.68,149.16" fill="#00b7ff"/>
<polygon points="94.32,146.83 60.66,114.91 61.29,116.99 94.95,148.08" fill="#00c3ff"/>
<polygon points="217.64,179.41 166.31,157.76 167.63,157.37 218.97,179.05" fill="#0000db"/>
<polygon points="93.69,145.24 60.03,112.68 60.66,114.91 94.32,146.83" fill="#00d3ff"/>
<polygon points="93.08,143.27 59.42,110.28 60.03,112.68 93.69,145.24" fill="#00e7ff"/>
<polygon points="216.32,179.78 164.99,158.15 166.31,157.76 217.64,179.41" fill="#0000db"/>
<polygon points="92.17,141.88 58.51,106.01 59.42,110.28 93.08,143.27" fill="#00f3ff"/>
<polygon points="214.99,180.14 163.66,158.54 164.99,158.15 216.32,179.78" fill="#0000db"/>
<polygon points="91.20,139.79 57.54,101.09 58.51,106.01 92.17,141.88" fill="#08fff7"/>
<polygon points="213.67,180.50 162.34,158.93 163.66,158.54 214.99,180.14" fill="#0000db"/>
<polygon points="89.28,131.76 55.62,93.06 57.54,101.09 91.20,139.79" fill="#54ffab"/>
<polygon points="212.35,180.87 161.01,159.30 162.34,158.93 213.67,180.50" fill="#0000df"/>
<polygon points="87.18,120.55 53.52,81.01 55.62,93.06 89.28,131.76" fill="#b7ff48"/>
<polygon points="211.02,181.23 159.69,159.66 161.01,159.30 212.35,180.87" fill="#0000df"/>
<polygon points="209.70,181.60 158.37,160.02 159.69,159.66 211.02,181.23" fill="#0000df"/>
<polygon points="84.82,102.58 51.16,67.48 53.52,81.01 87.18,120.55" fill="#ffa700"/>
<polygon points="208.37,181.96 157.04,160.38 158.37,160.02 209.70,181.60" fill="#0000df"/>
<polygon points="82.70,70.73 49.04,49.79 51.16,67.48 84.82,102.58" fill="#930000"/>
<polygon points="207.05,182.32 155.72,160.74 157.04,160.38 208.37,181.96" fill="#0000df"/>
<polygon points="205.73,182.68 154.39,161.10 155.72,160.74 207.05,182.32" fill="#0000df"/>
<polygon points="204.40,183.03 153.07,161.46 154.39,161.10 205.73,182.68" fill="#0000df"/>
<polygon points="203.08,183.33 151.75,161.82 153.07,161.46 204.40,183.03" fill="#0000e3"/>
<polygon points="201.75,183.63 150.42,162.17 151.75,161.82 203.08,183.33" fill="#0000e3"/>
<polygon points="200.43,183.93 149.10,162.53 150.42,162.17 201.75,183.63" fill="#0000e3"/>
<polygon points="199.11,184.22 147.77,162.88 149.10,162.53 200.43,183.93" fill="#0000e3"/>
<polygon points="197.78,184.52 146.45,163.24 147.77,162.88 199.11,184.22" fill="#0000e7"/>
<polygon points="196.46,184.81 145.13,163.59 146.45,163.24 197.78,184.52" fill="#0000e7"/>
<polygon points="195.13,185.11 143.80,163.94 145.13,163.59 196.46,184.81" fill="#0000e7"/>
<polygon points="193.81,185.40 142.48,164.29 143.80,163.94 195.13,185.11" fill="#0000eb"/>
<polygon points="192.49,185.69 141.15,164.57 142.48,164.29 193.81,185.40" fill="#0000eb"/>
<polygon points="191.16,185.98 139.83,164.83 141.15,164.57 192.49,185.69" fill="#0000eb"/>
<polygon points="189.84,186.25 138.51,165.09 139.83,164.83 191.16,185.98" fill="#0000eb"/>
<polygon points="188.51,186.51 137.18,165.35 138.51,165.09 189.84,186.25" fill="#0000ef"/>
<polygon points="187.19,186.77 135.86,165.59 137.18,165.35 188.51,186.51" fill="#0000ef"/>
<polygon points="185.87,187.03 134.53,165.84 135.86,165.59 187.19,186.77" fill="#0000ef"/>
<polygon points="184.54,187.29 133.21,166.07 134.53,165.84 185.87,187.03" fill="#0000f3"/>
<polygon points="183.22,187.55 131.89,166.30 133.21,166.07 184.54,187.29" fill="#0000f3"/>
<polygon points="181.89,187.76 130.56,166.53 131.89,166.30 183.22,187.55" fill="#0000f7"/>
<polygon points="180.57,187.74 129.24,166.75 130.56,166.53 181.89,187.76" fill="#0000f7"/>
<polygon points="179.25,187.71 127.91,166.96 129.24,166.75 180.57,187.74" fill="#0000fb"/>
<polygon points="177.92,187.67 126.59,167.17 127.91,166.96 179.25,187.71" fill="#0000ff"/>
<polygon points="176.60,187.61 125.27,167.37 126.59,167.17 177.92,187.67" fill="#0004ff"/>
<polygon points="175.27,187.54 123.94,167.57 125.27,167.37 176.60,187.61" fill="#000cff"/>
<polygon points="173.95,187.45 122.62,167.75 123.94,167.57 175.27,187.54" fill="#0010ff"/>
<polygon points="173.22,187.39 121.89,167.74 122.62,167.75 173.95,187.45" fill="#0010ff"/>
<polygon points="172.49,187.33 121.16,167.68 121.89,167.74 173.22,187.39" fill="#0014ff"/>
<polygon points="171.77,187.26 120.43,167.62 121.16,167.68 172.49,187.33" fill="#0018ff"/>
<polygon points="171.04,187.17 119.71,167.54 120.43,167.62 171.77,187.26" fill="#0018ff"/>
<polygon points="170.31,187.06 118.98,167.44 119.71,167.54 171.04,187.17" fill="#001cff"/>
<polygon points="169.58,186.96 118.25,167.34 118.98,167.44 170.31,187.06" fill="#0020ff"/>
<polygon points="168.85,186.84 117.52,167.23 118.25,167.34 169.58,186.96" fill="#0020ff"/>
<polygon points="168.12,186.72 116.79,167.10 117.52,167.23 168.85,186.84" fill="#0024ff"/>
<polygon points="167.40,186.59 116.06,166.96 116.79,167.10 168.12,186.72" fill="#0028ff"/>
<polygon points="166.67,186.45 115.34,166.81 116.06,166.96 167.40,186.59" fill="#002cff"/>
<polygon points="165.94,186.31 114.61,166.64 115.34,166.81 166.67,186.45" fill="#002cff"/>
<polygon points="165.21,186.16 113.88,166.46 114.61,166.64 165.94,186.31" fill="#0030ff"/>
<polygon points="164.48,186.00 113.15,166.26 113.88,166.46 165.21,186.16" fill="#0034ff"/>
<polygon points="163.76,185.84 112.42,166.05 113.15,166.26 164.48,186.00" fill="#0038ff"/>
<polygon points="163.03,185.58 111.70,165.82 112.42,166.05 163.76,185.84" fill="#003cff"/>
<polygon points="162.30,185.09 110.97,165.58 111.70,165.82 163.03,185.58" fill="#0044ff"/>
<polygon points="161.57,184.58 110.24,165.32 110.97,165.58 162.30,185.09" fill="#0048ff"/>
<polygon points="160.84,184.04 109.51,165.04 110.24,165.32 161.57,184.58" fill="#0050ff"/>
<polygon points="160.11,183.47 108.78,164.67 109.51,165.04 160.84,184.04" fill="#0054ff"/>
<polygon points="159.39,182.88 108.05,164.22 108.78,164.67 160.11,183.47" fill="#005cff"/>
<polygon points="158.66,182.24 107.33,163.73 108.05,164.22 159.39,182.88" fill="#0064ff"/>
<polygon points="157.93,181.55 106.60,163.22 107.33,163.73 158.66,182.24" fill="#006cff"/>
<polygon points="157.20,180.82 105.87,162.66 106.60,163.22 157.93,181.55" fill="#0074ff"/>
<polygon points="156.47,180.06 105.14,162.08 105.87,162.66 157.20,180.82" fill="#007cff"/>
<polygon points="155.75,179.25 104.41,161.46 105.14,162.08 156.47,180.06" fill="#0083ff"/>
<polygon points="155.02,178.34 103.69,160.80 104.41,161.46 155.75,179.25" fill="#008fff"/>
<polygon points="154.29,177.38 102.96,160.09 103.69,160.80 155.02,178.34" fill="#0097ff"/>
<polygon points="153.56,176.37 102.23,159.32 102.96,160.09 154.29,177.38" fill="#00a3ff"/>
<polygon points="152.83,175.32 101.50,158.47 102.23,159.32 153.56,176.37" fill="#00afff"/>
<polygon points="152.10,174.09 100.77,157.57 101.50,158.47 152.83,175.32" fill="#00bbff"/>
<polygon points="151.38,172.76 100.04,156.61 100.77,157.57 152.10,174.09" fill="#00c7ff"/>
<polygon points="150.65,171.36 99.32,155.59 100.04,156.61 151.38,172.76" fill="#00d7ff"/>
<polygon points="149.92,169.31 98.59,154.52 99.32,155.59 150.65,171.36" fill="#00ebff"/>
<polygon points="149.19,167.14 97.86,153.38 98.59,154.52 149.92,169.31" fill="#00ffff"/>
<polygon points="148.46,164.73 97.13,152.18 97.86,153.38 149.19,167.14" fill="#14ffeb"/>
<polygon points="147.73,162.57 96.40,150.61 97.13,152.18 148.46,164.73" fill="#28ffd7"/>
<polygon points="147.01,160.52 95.68,149.16 96.40,150.61 147.73,162.57" fill="#3cffc3"/>
<polygon points="146.28,159.07 94.95,148.08 95.68,149.16 147.01,160.52" fill="#4cffb3"/>
<polygon points="145.66,156.99 94.32,146.83 94.95,148.08 146.28,159.07" fill="#60ff9f"/>
<polygon points="145.02,154.79 93.69,145.24 94.32,146.83 145.66,156.99" fill="#74ff8b"/>
<polygon points="144.41,152.58 93.08,143.27 93.69,145.24 145.02,154.79" fill="#87ff78"/>
<polygon points="143.50,149.15 92.17,141.88 93.08,143.27 144.41,152.58" fill="#a7ff58"/>
<polygon points="142.53,145.26 91.20,139.79 92.17,141.88 143.50,149.15" fill="#cbff34"/>
<polygon points="140.61,136.63 89.28,131.76 91.20,139.79 142.53,145.26" fill="#ffe300"/>
<polygon points="138.51,125.78 87.18,120.55 89.28,131.76 140.61,136.63" fill="#ff8300"/>
<polygon points="136.15,111.53 84.82,102.58 87.18,120.55 138.51,125.78" fill="#ff0400"/>
<polygon points="134.03,96.60 82.70,70.73 84.82,102.58 136.15,111.53" fill="#800000"/></g>
<line x1="82.70" y1="70.73" x2="84.82" y2="102.58" stroke="#b01818" stroke-width="0.7"/>
<line x1="136.78" y1="229.62" x2="269.18" y2="187.52" stroke="#555555" stroke-width="0.75"/>
<line x1="136.78" y1="229.62" x2="35.80" y2="174.00" stroke="#555555" stroke-width="0.75"/>
<line x1="35.80" y1="174.00" x2="35.80" y2="54.00" stroke="#707070" stroke-width="0.7"/>
<line x1="33.30" y1="172.80" x2="35.80" y2="174.00" stroke="#555555" stroke-width="0.6"/><line x1="33.30" y1="148.80" x2="35.80" y2="150.00" stroke="#555555" stroke-width="0.6"/><line x1="33.30" y1="124.80" x2="35.80" y2="126.00" stroke="#555555" stroke-width="0.6"/><line x1="33.30" y1="100.80" x2="35.80" y2="102.00" stroke="#555555" stroke-width="0.6"/><line x1="33.30" y1="76.80" x2="35.80" y2="78.00" stroke="#555555" stroke-width="0.6"/><line x1="33.30" y1="52.80" x2="35.80" y2="54.00" stroke="#555555" stroke-width="0.6"/><line x1="136.78" y1="229.62" x2="134.28" y2="230.42" stroke="#555555" stroke-width="0.6"/><line x1="103.12" y1="211.08" x2="100.62" y2="211.88" stroke="#555555" stroke-width="0.6"/><line x1="69.46" y1="192.54" x2="66.96" y2="193.34" stroke="#555555" stroke-width="0.6"/><line x1="35.80" y1="174.00" x2="33.30" y2="174.80" stroke="#555555" stroke-width="0.6"/><line x1="136.78" y1="229.62" x2="139.08" y2="230.87" stroke="#555555" stroke-width="0.6"/><line x1="202.98" y1="208.57" x2="205.28" y2="209.82" stroke="#555555" stroke-width="0.6"/><line x1="269.18" y1="187.52" x2="271.48" y2="188.77" stroke="#555555" stroke-width="0.6"/>
<g fill="#3d3d3d" font-size="8.2"><text x="29.60" y="175.10" text-anchor="end">0</text><text x="29.60" y="151.10" text-anchor="end">0.2</text><text x="29.60" y="127.10" text-anchor="end">0.4</text><text x="29.60" y="103.10" text-anchor="end">0.6</text><text x="29.60" y="79.10" text-anchor="end">0.8</text><text x="29.60" y="55.10" text-anchor="end">1</text><text x="29.50" y="185.30" text-anchor="end">1</text><text x="63.16" y="203.84" text-anchor="end">0.8</text><text x="96.82" y="222.38" text-anchor="end">0.6</text><text x="130.48" y="240.92" text-anchor="end">0.4</text><text x="143.78" y="241.42">0</text><text x="209.98" y="220.37">0.5</text><text x="276.18" y="199.32">1</text></g>
<g><line x1="502.58" y1="229.62" x2="401.60" y2="174.00" stroke="#e2e2e2" stroke-width="0.6"/><line x1="401.60" y1="174.00" x2="401.60" y2="54.00" stroke="#e2e2e2" stroke-width="0.6"/><line x1="568.78" y1="208.57" x2="467.80" y2="152.95" stroke="#e2e2e2" stroke-width="0.6"/><line x1="467.80" y1="152.95" x2="467.80" y2="32.95" stroke="#e2e2e2" stroke-width="0.6"/><line x1="634.98" y1="187.52" x2="534.00" y2="131.90" stroke="#e2e2e2" stroke-width="0.6"/><line x1="534.00" y1="131.90" x2="534.00" y2="11.90" stroke="#e2e2e2" stroke-width="0.6"/><line x1="502.58" y1="229.62" x2="634.98" y2="187.52" stroke="#e2e2e2" stroke-width="0.6"/><line x1="634.98" y1="187.52" x2="634.98" y2="67.52" stroke="#e2e2e2" stroke-width="0.6"/><line x1="468.92" y1="211.08" x2="601.32" y2="168.98" stroke="#e2e2e2" stroke-width="0.6"/><line x1="601.32" y1="168.98" x2="601.32" y2="48.98" stroke="#e2e2e2" stroke-width="0.6"/><line x1="435.26" y1="192.54" x2="567.66" y2="150.44" stroke="#e2e2e2" stroke-width="0.6"/><line x1="567.66" y1="150.44" x2="567.66" y2="30.44" stroke="#e2e2e2" stroke-width="0.6"/><line x1="401.60" y1="174.00" x2="534.00" y2="131.90" stroke="#e2e2e2" stroke-width="0.6"/><line x1="534.00" y1="131.90" x2="534.00" y2="11.90" stroke="#e2e2e2" stroke-width="0.6"/><line x1="401.60" y1="174.00" x2="534.00" y2="131.90" stroke="#e2e2e2" stroke-width="0.6"/><line x1="534.00" y1="131.90" x2="634.98" y2="187.52" stroke="#e2e2e2" stroke-width="0.6"/><line x1="401.60" y1="150.00" x2="534.00" y2="107.90" stroke="#e2e2e2" stroke-width="0.6"/><line x1="534.00" y1="107.90" x2="634.98" y2="163.52" stroke="#e2e2e2" stroke-width="0.6"/><line x1="401.60" y1="126.00" x2="534.00" y2="83.90" stroke="#e2e2e2" stroke-width="0.6"/><line x1="534.00" y1="83.90" x2="634.98" y2="139.52" stroke="#e2e2e2" stroke-width="0.6"/><line x1="401.60" y1="102.00" x2="534.00" y2="59.90" stroke="#e2e2e2" stroke-width="0.6"/><line x1="534.00" y1="59.90" x2="634.98" y2="115.52" stroke="#e2e2e2" stroke-width="0.6"/><line x1="401.60" y1="78.00" x2="534.00" y2="35.90" stroke="#e2e2e2" stroke-width="0.6"/><line x1="534.00" y1="35.90" x2="634.98" y2="91.52" stroke="#e2e2e2" stroke-width="0.6"/><line x1="401.60" y1="54.00" x2="534.00" y2="11.90" stroke="#e2e2e2" stroke-width="0.6"/><line x1="534.00" y1="11.90" x2="634.98" y2="67.52" stroke="#e2e2e2" stroke-width="0.6"/></g>
<g shape-rendering="crispEdges"><polygon points="566.34,150.49 532.68,132.32 534.00,131.90 567.66,150.08" fill="#000083"/>
<polygon points="563.69,151.32 530.03,133.16 532.68,132.32 566.34,150.49" fill="#000083"/>
<polygon points="561.04,152.15 527.38,134.00 530.03,133.16 563.69,151.32" fill="#000083"/>
<polygon points="558.39,152.98 524.73,134.85 527.38,134.00 561.04,152.15" fill="#000083"/>
<polygon points="555.74,153.80 522.08,135.69 524.73,134.85 558.39,152.98" fill="#000083"/>
<polygon points="553.10,154.63 519.44,136.53 522.08,135.69 555.74,153.80" fill="#000083"/>
<polygon points="550.45,155.45 516.79,137.37 519.44,136.53 553.10,154.63" fill="#000083"/>
<polygon points="547.80,156.28 514.14,138.21 516.79,137.37 550.45,155.45" fill="#000087"/>
<polygon points="545.15,157.10 511.49,139.06 514.14,138.21 547.80,156.28" fill="#000087"/>
<polygon points="542.50,157.93 508.84,139.90 511.49,139.06 545.15,157.10" fill="#000087"/>
<polygon points="539.86,158.75 506.20,140.74 508.84,139.90 542.50,157.93" fill="#000087"/>
<polygon points="537.21,159.57 503.55,141.58 506.20,140.74 539.86,158.75" fill="#000087"/>
<polygon points="534.56,160.39 500.90,142.42 503.55,141.58 537.21,159.57" fill="#000087"/>
<polygon points="531.91,161.21 498.25,143.27 500.90,142.42 534.56,160.39" fill="#000087"/>
<polygon points="529.26,162.03 495.60,144.11 498.25,143.27 531.91,161.21" fill="#000087"/>
<polygon points="526.62,162.85 492.96,144.95 495.60,144.11 529.26,162.03" fill="#000087"/>
<polygon points="523.97,163.67 490.31,145.79 492.96,144.95 526.62,162.85" fill="#000087"/>
<polygon points="521.32,164.49 487.66,146.63 490.31,145.79 523.97,163.67" fill="#000087"/>
<polygon points="518.67,165.30 485.01,147.48 487.66,146.63 521.32,164.49" fill="#000087"/>
<polygon points="516.02,166.12 482.36,148.32 485.01,147.48 518.67,165.30" fill="#000087"/>
<polygon points="513.38,166.93 479.72,149.16 482.36,148.32 516.02,166.12" fill="#000087"/>
<polygon points="510.73,167.74 477.07,150.00 479.72,149.16 513.38,166.93" fill="#000087"/>
<polygon points="508.08,168.56 474.42,150.84 477.07,150.00 510.73,167.74" fill="#000087"/>
<polygon points="505.43,169.37 471.77,151.69 474.42,150.84 508.08,168.56" fill="#000087"/>
<polygon points="502.78,170.18 469.12,152.53 471.77,151.69 505.43,169.37" fill="#000087"/>
<polygon points="500.14,170.98 466.48,153.37 469.12,152.53 502.78,170.18" fill="#000087"/>
<polygon points="497.49,171.79 463.83,154.21 466.48,153.37 500.14,170.98" fill="#00008b"/>
<polygon points="494.84,172.60 461.18,155.05 463.83,154.21 497.49,171.79" fill="#00008b"/>
<polygon points="617.67,177.10 566.34,150.49 567.66,150.08 618.99,176.73" fill="#000093"/>
<polygon points="492.19,173.40 458.53,155.90 461.18,155.05 494.84,172.60" fill="#00008b"/>
<polygon points="615.02,177.83 563.69,151.32 566.34,150.49 617.67,177.10" fill="#000093"/>
<polygon points="489.54,174.20 455.88,156.74 458.53,155.90 492.19,173.40" fill="#00008b"/>
<polygon points="612.37,178.54 561.04,152.15 563.69,151.32 615.02,177.83" fill="#000093"/>
<polygon points="486.90,175.00 453.24,157.58 455.88,156.74 489.54,174.20" fill="#00008b"/>
<polygon points="609.72,179.34 558.39,152.98 561.04,152.15 612.37,178.54" fill="#000093"/>
<polygon points="484.25,175.80 450.59,158.42 453.24,157.58 486.90,175.00" fill="#00008b"/>
<polygon points="607.08,180.14 555.74,153.80 558.39,152.98 609.72,179.34" fill="#000097"/>
<polygon points="481.60,176.60 447.94,159.26 450.59,158.42 484.25,175.80" fill="#00008b"/>
<polygon points="604.43,180.94 553.10,154.63 555.74,153.80 607.08,180.14" fill="#000097"/>
<polygon points="478.95,177.40 445.29,160.10 447.94,159.26 481.60,176.60" fill="#00008b"/>
<polygon points="601.78,181.74 550.45,155.45 553.10,154.63 604.43,180.94" fill="#000097"/>
<polygon points="476.30,178.19 442.64,160.95 445.29,160.10 478.95,177.40" fill="#00008b"/>
<polygon points="599.13,182.54 547.80,156.28 550.45,155.45 601.78,181.74" fill="#000097"/>
<polygon points="473.66,178.99 440.00,161.79 442.64,160.95 476.30,178.19" fill="#00008b"/>
<polygon points="596.48,183.34 545.15,157.10 547.80,156.28 599.13,182.54" fill="#000097"/>
<polygon points="471.01,179.78 437.35,162.63 440.00,161.79 473.66,178.99" fill="#00008b"/>
<polygon points="593.84,184.13 542.50,157.93 545.15,157.10 596.48,183.34" fill="#000097"/>
<polygon points="468.36,180.57 434.70,163.47 437.35,162.63 471.01,179.78" fill="#00008f"/>
<polygon points="591.19,184.93 539.86,158.75 542.50,157.93 593.84,184.13" fill="#000097"/>
<polygon points="465.71,181.35 432.05,164.31 434.70,163.47 468.36,180.57" fill="#00008f"/>
<polygon points="588.54,185.73 537.21,159.57 539.86,158.75 591.19,184.93" fill="#000097"/>
<polygon points="463.06,182.14 429.40,165.15 432.05,164.31 465.71,181.35" fill="#00008f"/>
<polygon points="585.89,186.53 534.56,160.39 537.21,159.57 588.54,185.73" fill="#000097"/>
<polygon points="462.40,182.30 428.74,165.36 429.40,165.15 463.06,182.14" fill="#00008f"/>
<polygon points="461.74,182.45 428.08,165.57 428.74,165.36 462.40,182.30" fill="#00008f"/>
<polygon points="461.08,182.61 427.42,165.78 428.08,165.57 461.74,182.45" fill="#00008f"/>
<polygon points="460.42,182.76 426.76,165.99 427.42,165.78 461.08,182.61" fill="#00008f"/>
<polygon points="583.24,187.33 531.91,161.21 534.56,160.39 585.89,186.53" fill="#000097"/>
<polygon points="459.75,182.91 426.09,166.20 426.76,165.99 460.42,182.76" fill="#00008f"/>
<polygon points="459.09,183.06 425.43,166.41 426.09,166.20 459.75,182.91" fill="#000093"/>
<polygon points="458.43,183.20 424.77,166.62 425.43,166.41 459.09,183.06" fill="#000093"/>
<polygon points="457.77,183.35 424.11,166.83 424.77,166.62 458.43,183.20" fill="#000093"/>
<polygon points="580.60,188.13 529.26,162.03 531.91,161.21 583.24,187.33" fill="#000097"/>
<polygon points="457.11,183.49 423.45,167.04 424.11,166.83 457.77,183.35" fill="#000093"/>
<polygon points="456.44,183.63 422.78,167.25 423.45,167.04 457.11,183.49" fill="#000093"/>
<polygon points="455.78,183.77 422.12,167.46 422.78,167.25 456.44,183.63" fill="#000093"/>
<polygon points="455.12,183.90 421.46,167.67 422.12,167.46 455.78,183.77" fill="#000093"/>
<polygon points="577.95,188.93 526.62,162.85 529.26,162.03 580.60,188.13" fill="#00009b"/>
<polygon points="454.46,184.03 420.80,167.88 421.46,167.67 455.12,183.90" fill="#000097"/>
<polygon points="453.80,184.16 420.14,168.09 420.80,167.88 454.46,184.03" fill="#000097"/>
<polygon points="453.13,184.29 419.47,168.30 420.14,168.09 453.80,184.16" fill="#000097"/>
<polygon points="452.47,184.41 418.81,168.51 419.47,168.30 453.13,184.29" fill="#000097"/>
<polygon points="575.30,189.72 523.97,163.67 526.62,162.85 577.95,188.93" fill="#00009b"/>
<polygon points="451.81,184.53 418.15,168.72 418.81,168.51 452.47,184.41" fill="#000097"/>
<polygon points="451.15,184.65 417.49,168.93 418.15,168.72 451.81,184.53" fill="#00009b"/>
<polygon points="450.49,184.77 416.83,169.14 417.49,168.93 451.15,184.65" fill="#00009b"/>
<polygon points="449.82,184.88 416.16,169.35 416.83,169.14 450.49,184.77" fill="#00009b"/>
<polygon points="572.65,190.52 521.32,164.49 523.97,163.67 575.30,189.72" fill="#00009b"/>
<polygon points="449.16,184.99 415.50,169.56 416.16,169.35 449.82,184.88" fill="#00009b"/>
<polygon points="448.50,185.09 414.84,169.77 415.50,169.56 449.16,184.99" fill="#00009b"/>
<polygon points="448.39,185.10 414.73,169.80 414.84,169.77 448.50,185.09" fill="#00009b"/>
<polygon points="448.26,185.12 414.60,169.84 414.73,169.80 448.39,185.10" fill="#00009f"/>
<polygon points="448.12,185.14 414.46,169.88 414.60,169.84 448.26,185.12" fill="#00009f"/>
<polygon points="447.99,185.15 414.33,169.92 414.46,169.88 448.12,185.14" fill="#00009f"/>
<polygon points="447.86,185.17 414.20,169.96 414.33,169.92 447.99,185.15" fill="#00009f"/>
<polygon points="447.73,185.19 414.07,170.00 414.20,169.96 447.86,185.17" fill="#00009f"/>
<polygon points="447.59,185.20 413.93,170.04 414.07,170.00 447.73,185.19" fill="#00009f"/>
<polygon points="447.46,185.22 413.80,170.08 413.93,170.04 447.59,185.20" fill="#00009f"/>
<polygon points="447.33,185.23 413.67,170.12 413.80,170.08 447.46,185.22" fill="#00009f"/>
<polygon points="570.00,191.32 518.67,165.30 521.32,164.49 572.65,190.52" fill="#00009b"/>
<polygon points="447.20,185.25 413.54,170.15 413.67,170.12 447.33,185.23" fill="#00009f"/>
<polygon points="447.06,185.27 413.40,170.19 413.54,170.15 447.20,185.25" fill="#00009f"/>
<polygon points="446.93,185.28 413.27,170.23 413.40,170.19 447.06,185.27" fill="#00009f"/>
<polygon points="446.80,185.29 413.14,170.26 413.27,170.23 446.93,185.28" fill="#00009f"/>
<polygon points="446.67,185.31 413.01,170.30 413.14,170.26 446.80,185.29" fill="#00009f"/>
<polygon points="446.53,185.32 412.87,170.33 413.01,170.30 446.67,185.31" fill="#00009f"/>
<polygon points="446.40,185.34 412.74,170.37 412.87,170.33 446.53,185.32" fill="#00009f"/>
<polygon points="446.27,185.35 412.61,170.40 412.74,170.37 446.40,185.34" fill="#00009f"/>
<polygon points="446.14,185.37 412.48,170.43 412.61,170.40 446.27,185.35" fill="#00009f"/>
<polygon points="446.00,185.38 412.34,170.46 412.48,170.43 446.14,185.37" fill="#00009f"/>
<polygon points="445.87,185.39 412.21,170.49 412.34,170.46 446.00,185.38" fill="#0000a3"/>
<polygon points="445.74,185.40 412.08,170.52 412.21,170.49 445.87,185.39" fill="#0000a3"/>
<polygon points="445.61,185.42 411.95,170.55 412.08,170.52 445.74,185.40" fill="#0000a3"/>
<polygon points="445.47,185.43 411.81,170.58 411.95,170.55 445.61,185.42" fill="#0000a3"/>
<polygon points="445.34,185.44 411.68,170.60 411.81,170.58 445.47,185.43" fill="#0000a3"/>
<polygon points="445.21,185.45 411.55,170.62 411.68,170.60 445.34,185.44" fill="#0000a3"/>
<polygon points="445.08,185.47 411.42,170.64 411.55,170.62 445.21,185.45" fill="#0000a3"/>
<polygon points="444.95,185.48 411.29,170.66 411.42,170.64 445.08,185.47" fill="#0000a3"/>
<polygon points="444.81,185.49 411.15,170.68 411.29,170.66 444.95,185.48" fill="#0000a3"/>
<polygon points="444.68,185.50 411.02,170.69 411.15,170.68 444.81,185.49" fill="#0000a3"/>
<polygon points="567.36,192.11 516.02,166.12 518.67,165.30 570.00,191.32" fill="#00009b"/>
<polygon points="444.55,185.51 410.89,170.70 411.02,170.69 444.68,185.50" fill="#0000a3"/>
<polygon points="444.42,185.50 410.76,170.70 410.89,170.70 444.55,185.51" fill="#0000a3"/>
<polygon points="444.28,185.48 410.62,170.71 410.76,170.70 444.42,185.50" fill="#0000a3"/>
<polygon points="444.15,185.47 410.49,170.71 410.62,170.71 444.28,185.48" fill="#0000a7"/>
<polygon points="444.02,185.45 410.36,170.70 410.49,170.71 444.15,185.47" fill="#0000a7"/>
<polygon points="443.89,185.43 410.23,170.69 410.36,170.70 444.02,185.45" fill="#0000a7"/>
<polygon points="443.75,185.41 410.09,170.67 410.23,170.69 443.89,185.43" fill="#0000a7"/>
<polygon points="443.62,185.39 409.96,170.65 410.09,170.67 443.75,185.41" fill="#0000a7"/>
<polygon points="443.49,185.37 409.83,170.62 409.96,170.65 443.62,185.39" fill="#0000a7"/>
<polygon points="443.36,185.34 409.70,170.59 409.83,170.62 443.49,185.37" fill="#0000a7"/>
<polygon points="443.22,185.32 409.56,170.55 409.70,170.59 443.36,185.34" fill="#0000a7"/>
<polygon points="443.09,185.30 409.43,170.49 409.56,170.55 443.22,185.32" fill="#0000ab"/>
<polygon points="442.96,185.27 409.30,170.43 409.43,170.49 443.09,185.30" fill="#0000ab"/>
<polygon points="442.83,185.24 409.17,170.36 409.30,170.43 442.96,185.27" fill="#0000ab"/>
<polygon points="442.69,185.22 409.03,170.27 409.17,170.36 442.83,185.24" fill="#0000ab"/>
<polygon points="442.56,185.19 408.90,170.18 409.03,170.27 442.69,185.22" fill="#0000ab"/>
<polygon points="442.43,185.09 408.77,170.06 408.90,170.18 442.56,185.19" fill="#0000af"/>
<polygon points="442.30,184.97 408.64,169.94 408.77,170.06 442.43,185.09" fill="#0000af"/>
<polygon points="442.16,184.85 408.50,169.79 408.64,169.94 442.30,184.97" fill="#0000af"/>
<polygon points="442.03,184.73 408.37,169.63 408.50,169.79 442.16,184.85" fill="#0000b3"/>
<polygon points="564.71,192.90 513.38,166.93 516.02,166.12 567.36,192.11" fill="#00009b"/>
<polygon points="441.90,184.60 408.24,169.44 408.37,169.63 442.03,184.73" fill="#0000b3"/>
<polygon points="441.77,184.46 408.11,169.23 408.24,169.44 441.90,184.60" fill="#0000b3"/>
<polygon points="441.64,184.32 407.98,169.00 408.11,169.23 441.77,184.46" fill="#0000b7"/>
<polygon points="441.50,184.17 407.84,168.74 407.98,169.00 441.64,184.32" fill="#0000b7"/>
<polygon points="441.37,184.02 407.71,168.45 407.84,168.74 441.50,184.17" fill="#0000bb"/>
<polygon points="441.24,183.86 407.58,168.13 407.71,168.45 441.37,184.02" fill="#0000bb"/>
<polygon points="441.11,183.69 407.45,167.76 407.58,168.13 441.24,183.86" fill="#0000bb"/>
<polygon points="440.97,183.52 407.31,167.36 407.45,167.76 441.11,183.69" fill="#0000bf"/>
<polygon points="440.84,183.34 407.18,166.91 407.31,167.36 440.97,183.52" fill="#0000bf"/>
<polygon points="440.71,183.16 407.05,166.42 407.18,166.91 440.84,183.34" fill="#0000c3"/>
<polygon points="440.58,182.97 406.92,165.86 407.05,166.42 440.71,183.16" fill="#0000c3"/>
<polygon points="440.50,182.75 406.84,165.54 406.92,165.86 440.58,182.97" fill="#0000c7"/>
<polygon points="440.43,182.48 406.77,165.19 406.84,165.54 440.50,182.75" fill="#0000c7"/>
<polygon points="440.36,182.20 406.70,164.83 406.77,165.19 440.43,182.48" fill="#0000cb"/>
<polygon points="440.28,181.91 406.62,164.44 406.70,164.83 440.36,182.20" fill="#0000cf"/>
<polygon points="440.21,181.61 406.55,164.04 406.62,164.44 440.28,181.91" fill="#0000cf"/>
<polygon points="440.14,181.30 406.48,163.60 406.55,164.04 440.21,181.61" fill="#0000d3"/>
<polygon points="440.07,180.98 406.41,163.15 406.48,163.60 440.14,181.30" fill="#0000d7"/>
<polygon points="439.99,180.65 406.33,162.67 406.41,163.15 440.07,180.98" fill="#0000db"/>
<polygon points="439.92,180.30 406.26,162.16 406.33,162.67 439.99,180.65" fill="#0000db"/>
<polygon points="439.85,179.94 406.19,161.61 406.26,162.16 439.92,180.30" fill="#0000df"/>
<polygon points="439.77,179.56 406.11,161.03 406.19,161.61 439.85,179.94" fill="#0000e3"/>
<polygon points="439.70,179.17 406.04,160.41 406.11,161.03 439.77,179.56" fill="#0000e7"/>
<polygon points="439.63,178.77 405.97,159.75 406.04,160.41 439.70,179.17" fill="#0000eb"/>
<polygon points="439.56,178.35 405.90,159.06 405.97,159.75 439.63,178.77" fill="#0000ef"/>
<polygon points="439.48,177.91 405.82,158.33 405.90,159.06 439.56,178.35" fill="#0000f3"/>
<polygon points="439.41,177.46 405.75,157.55 405.82,158.33 439.48,177.91" fill="#0000f7"/>
<polygon points="562.06,193.68 510.73,167.74 513.38,166.93 564.71,192.90" fill="#00009b"/>
<polygon points="439.34,176.99 405.68,156.73 405.75,157.55 439.41,177.46" fill="#0000fb"/>
<polygon points="439.27,176.50 405.61,155.87 405.68,156.73 439.34,176.99" fill="#0000ff"/>
<polygon points="439.19,175.93 405.53,154.96 405.61,155.87 439.27,176.50" fill="#0004ff"/>
<polygon points="439.12,175.26 405.46,154.02 405.53,154.96 439.19,175.93" fill="#000cff"/>
<polygon points="439.05,174.57 405.39,153.02 405.46,154.02 439.12,175.26" fill="#0010ff"/>
<polygon points="438.97,173.84 405.31,151.97 405.39,153.02 439.05,174.57" fill="#0018ff"/>
<polygon points="438.90,173.08 405.24,150.86 405.31,151.97 438.97,173.84" fill="#0020ff"/>
<polygon points="438.83,172.29 405.17,149.69 405.24,150.86 438.90,173.08" fill="#0024ff"/>
<polygon points="438.76,171.46 405.10,148.45 405.17,149.69 438.83,172.29" fill="#002cff"/>
<polygon points="438.68,170.59 405.02,147.15 405.10,148.45 438.76,171.46" fill="#0034ff"/>
<polygon points="438.61,169.68 404.95,145.77 405.02,147.15 438.68,170.59" fill="#003cff"/>
<polygon points="438.54,168.70 404.88,144.31 404.95,145.77 438.61,169.68" fill="#0044ff"/>
<polygon points="438.46,167.64 404.80,142.76 404.88,144.31 438.54,168.70" fill="#004cff"/>
<polygon points="438.39,166.53 404.73,141.12 404.80,142.76 438.46,167.64" fill="#0058ff"/>
<polygon points="438.32,165.36 404.66,139.39 404.73,141.12 438.39,166.53" fill="#0060ff"/>
<polygon points="438.25,164.14 404.59,137.56 404.66,139.39 438.32,165.36" fill="#006cff"/>
<polygon points="438.17,162.85 404.51,135.64 404.59,137.56 438.25,164.14" fill="#0078ff"/>
<polygon points="438.10,161.51 404.44,133.60 404.51,135.64 438.17,162.85" fill="#0083ff"/>
<polygon points="438.03,160.10 404.37,131.45 404.44,133.60 438.10,161.51" fill="#008fff"/>
<polygon points="437.95,158.32 404.29,129.19 404.37,131.45 438.03,160.10" fill="#009fff"/>
<polygon points="437.88,156.67 404.22,126.80 404.29,129.19 437.95,158.32" fill="#00abff"/>
<polygon points="437.81,155.37 404.15,124.28 404.22,126.80 437.88,156.67" fill="#00b7ff"/>
<polygon points="437.75,153.95 404.09,122.03 404.15,124.28 437.81,155.37" fill="#00c3ff"/>
<polygon points="437.68,152.17 404.02,119.61 404.09,122.03 437.75,153.95" fill="#00d3ff"/>
<polygon points="437.62,150.03 403.96,117.04 404.02,119.61 437.68,152.17" fill="#00e7ff"/>
<polygon points="437.53,148.38 403.87,112.51 403.96,117.04 437.62,150.03" fill="#00f3ff"/>
<polygon points="437.43,146.01 403.77,107.31 403.87,112.51 437.53,148.38" fill="#08fff7"/>
<polygon points="437.24,137.43 403.58,98.73 403.77,107.31 437.43,146.01" fill="#54ffab"/>
<polygon points="437.03,125.62 403.37,86.08 403.58,98.73 437.24,137.43" fill="#b7ff48"/>
<polygon points="436.80,106.97 403.14,71.87 403.37,86.08 437.03,125.62" fill="#ffa700"/>
<polygon points="559.41,194.47 508.08,168.56 510.73,167.74 562.06,193.68" fill="#00009b"/>
<polygon points="436.58,74.52 402.92,53.58 403.14,71.87 436.80,106.97" fill="#930000"/>
<polygon points="556.76,195.25 505.43,169.37 508.08,168.56 559.41,194.47" fill="#00009b"/>
<polygon points="554.12,196.04 502.78,170.18 505.43,169.37 556.76,195.25" fill="#00009f"/>
<polygon points="551.47,196.82 500.14,170.98 502.78,170.18 554.12,196.04" fill="#00009f"/>
<polygon points="548.82,197.60 497.49,171.79 500.14,170.98 551.47,196.82" fill="#00009f"/>
<polygon points="546.17,198.38 494.84,172.60 497.49,171.79 548.82,197.60" fill="#00009f"/>
<polygon points="543.52,199.14 492.19,173.40 494.84,172.60 546.17,198.38" fill="#00009f"/>
<polygon points="540.88,199.90 489.54,174.20 492.19,173.40 543.52,199.14" fill="#00009f"/>
<polygon points="538.23,200.66 486.90,175.00 489.54,174.20 540.88,199.90" fill="#00009f"/>
<polygon points="535.58,201.41 484.25,175.80 486.90,175.00 538.23,200.66" fill="#0000a3"/>
<polygon points="532.93,202.17 481.60,176.60 484.25,175.80 535.58,201.41" fill="#0000a3"/>
<polygon points="530.28,202.92 478.95,177.40 481.60,176.60 532.93,202.17" fill="#0000a3"/>
<polygon points="527.64,203.67 476.30,178.19 478.95,177.40 530.28,202.92" fill="#0000a3"/>
<polygon points="524.99,204.42 473.66,178.99 476.30,178.19 527.64,203.67" fill="#0000a3"/>
<polygon points="522.34,204.98 471.01,179.78 473.66,178.99 524.99,204.42" fill="#0000a7"/>
<polygon points="519.69,205.50 468.36,180.57 471.01,179.78 522.34,204.98" fill="#0000ab"/>
<polygon points="517.04,205.98 465.71,181.35 468.36,180.57 519.69,205.50" fill="#0000ab"/>
<polygon points="514.40,206.45 463.06,182.14 465.71,181.35 517.04,205.98" fill="#0000af"/>
<polygon points="513.73,206.56 462.40,182.30 463.06,182.14 514.40,206.45" fill="#0000af"/>
<polygon points="513.07,206.67 461.74,182.45 462.40,182.30 513.73,206.56" fill="#0000b3"/>
<polygon points="512.41,206.78 461.08,182.61 461.74,182.45 513.07,206.67" fill="#0000b3"/>
<polygon points="511.75,206.88 460.42,182.76 461.08,182.61 512.41,206.78" fill="#0000b3"/>
<polygon points="511.09,206.98 459.75,182.91 460.42,182.76 511.75,206.88" fill="#0000b3"/>
<polygon points="510.42,207.09 459.09,183.06 459.75,182.91 511.09,206.98" fill="#0000b7"/>
<polygon points="509.76,207.19 458.43,183.20 459.09,183.06 510.42,207.09" fill="#0000b7"/>
<polygon points="509.10,207.28 457.77,183.35 458.43,183.20 509.76,207.19" fill="#0000b7"/>
<polygon points="508.44,207.38 457.11,183.49 457.77,183.35 509.10,207.28" fill="#0000b7"/>
<polygon points="507.78,207.47 456.44,183.63 457.11,183.49 508.44,207.38" fill="#0000bb"/>
<polygon points="507.11,207.57 455.78,183.77 456.44,183.63 507.78,207.47" fill="#0000bb"/>
<polygon points="506.45,207.66 455.12,183.90 455.78,183.77 507.11,207.57" fill="#0000bb"/>
<polygon points="505.79,207.74 454.46,184.03 455.12,183.90 506.45,207.66" fill="#0000bb"/>
<polygon points="505.13,207.83 453.80,184.16 454.46,184.03 505.79,207.74" fill="#0000bf"/>
<polygon points="504.47,207.91 453.13,184.29 453.80,184.16 505.13,207.83" fill="#0000bf"/>
<polygon points="503.80,207.99 452.47,184.41 453.13,184.29 504.47,207.91" fill="#0000bf"/>
<polygon points="503.14,208.07 451.81,184.53 452.47,184.41 503.80,207.99" fill="#0000bf"/>
<polygon points="502.48,208.17 451.15,184.65 451.81,184.53 503.14,208.07" fill="#0000c3"/>
<polygon points="501.82,208.30 450.49,184.77 451.15,184.65 502.48,208.17" fill="#0000c3"/>
<polygon points="501.16,208.43 449.82,184.88 450.49,184.77 501.82,208.30" fill="#0000c3"/>
<polygon points="500.49,208.56 449.16,184.99 449.82,184.88 501.16,208.43" fill="#0000c3"/>
<polygon points="499.83,208.68 448.50,185.09 449.16,184.99 500.49,208.56" fill="#0000c3"/>
<polygon points="499.72,208.58 448.39,185.10 448.50,185.09 499.83,208.68" fill="#0000c7"/>
<polygon points="499.59,208.46 448.26,185.12 448.39,185.10 499.72,208.58" fill="#0000c7"/>
<polygon points="499.45,208.34 448.12,185.14 448.26,185.12 499.59,208.46" fill="#0000c7"/>
<polygon points="499.32,208.21 447.99,185.15 448.12,185.14 499.45,208.34" fill="#0000cb"/>
<polygon points="499.19,208.07 447.86,185.17 447.99,185.15 499.32,208.21" fill="#0000cb"/>
<polygon points="499.06,208.00 447.73,185.19 447.86,185.17 499.19,208.07" fill="#0000cb"/>
<polygon points="498.92,207.94 447.59,185.20 447.73,185.19 499.06,208.00" fill="#0000cf"/>
<polygon points="498.79,207.88 447.46,185.22 447.59,185.20 498.92,207.94" fill="#0000cf"/>
<polygon points="498.66,207.82 447.33,185.23 447.46,185.22 498.79,207.88" fill="#0000cf"/>
<polygon points="498.53,207.75 447.20,185.25 447.33,185.23 498.66,207.82" fill="#0000cf"/>
<polygon points="498.39,207.68 447.06,185.27 447.20,185.25 498.53,207.75" fill="#0000d3"/>
<polygon points="498.26,207.62 446.93,185.28 447.06,185.27 498.39,207.68" fill="#0000d3"/>
<polygon points="498.13,207.55 446.80,185.29 446.93,185.28 498.26,207.62" fill="#0000d3"/>
<polygon points="498.00,207.48 446.67,185.31 446.80,185.29 498.13,207.55" fill="#0000d3"/>
<polygon points="497.87,207.41 446.53,185.32 446.67,185.31 498.00,207.48" fill="#0000d3"/>
<polygon points="497.73,207.38 446.40,185.34 446.53,185.32 497.87,207.41" fill="#0000d7"/>
<polygon points="497.60,207.36 446.27,185.35 446.40,185.34 497.73,207.38" fill="#0000d7"/>
<polygon points="497.47,207.33 446.14,185.37 446.27,185.35 497.60,207.36" fill="#0000d7"/>
<polygon points="497.34,207.31 446.00,185.38 446.14,185.37 497.47,207.33" fill="#0000d7"/>
<polygon points="497.20,207.29 445.87,185.39 446.00,185.38 497.34,207.31" fill="#0000d7"/>
<polygon points="497.07,207.26 445.74,185.40 445.87,185.39 497.20,207.29" fill="#0000d7"/>
<polygon points="496.94,207.24 445.61,185.42 445.74,185.40 497.07,207.26" fill="#0000d7"/>
<polygon points="496.81,207.22 445.47,185.43 445.61,185.42 496.94,207.24" fill="#0000db"/>
<polygon points="496.67,207.19 445.34,185.44 445.47,185.43 496.81,207.22" fill="#0000db"/>
<polygon points="496.54,207.17 445.21,185.45 445.34,185.44 496.67,207.19" fill="#0000db"/>
<polygon points="496.41,207.14 445.08,185.47 445.21,185.45 496.54,207.17" fill="#0000db"/>
<polygon points="496.28,207.13 444.95,185.48 445.08,185.47 496.41,207.14" fill="#0000db"/>
<polygon points="496.14,207.11 444.81,185.49 444.95,185.48 496.28,207.13" fill="#0000db"/>
<polygon points="496.01,207.10 444.68,185.50 444.81,185.49 496.14,207.11" fill="#0000db"/>
<polygon points="495.88,207.08 444.55,185.51 444.68,185.50 496.01,207.10" fill="#0000db"/>
<polygon points="495.75,207.07 444.42,185.50 444.55,185.51 495.88,207.08" fill="#0000df"/>
<polygon points="495.61,207.05 444.28,185.48 444.42,185.50 495.75,207.07" fill="#0000df"/>
<polygon points="495.48,207.04 444.15,185.47 444.28,185.48 495.61,207.05" fill="#0000df"/>
<polygon points="495.35,207.02 444.02,185.45 444.15,185.47 495.48,207.04" fill="#0000df"/>
<polygon points="495.22,207.01 443.89,185.43 444.02,185.45 495.35,207.02" fill="#0000df"/>
<polygon points="495.08,206.99 443.75,185.41 443.89,185.43 495.22,207.01" fill="#0000df"/>
<polygon points="494.95,206.95 443.62,185.39 443.75,185.41 495.08,206.99" fill="#0000df"/>
<polygon points="494.82,206.88 443.49,185.37 443.62,185.39 494.95,206.95" fill="#0000e3"/>
<polygon points="494.69,206.80 443.36,185.34 443.49,185.37 494.82,206.88" fill="#0000e3"/>
<polygon points="494.56,206.72 443.22,185.32 443.36,185.34 494.69,206.80" fill="#0000e3"/>
<polygon points="494.42,206.63 443.09,185.30 443.22,185.32 494.56,206.72" fill="#0000e3"/>
<polygon points="494.29,206.55 442.96,185.27 443.09,185.30 494.42,206.63" fill="#0000e7"/>
<polygon points="494.16,206.47 442.83,185.24 442.96,185.27 494.29,206.55" fill="#0000e7"/>
<polygon points="494.03,206.38 442.69,185.22 442.83,185.24 494.16,206.47" fill="#0000e7"/>
<polygon points="493.89,206.29 442.56,185.19 442.69,185.22 494.03,206.38" fill="#0000eb"/>
<polygon points="493.76,206.21 442.43,185.09 442.56,185.19 493.89,206.29" fill="#0000eb"/>
<polygon points="493.63,206.12 442.30,184.97 442.43,185.09 493.76,206.21" fill="#0000eb"/>
<polygon points="493.50,206.01 442.16,184.85 442.30,184.97 493.63,206.12" fill="#0000eb"/>
<polygon points="493.36,205.89 442.03,184.73 442.16,184.85 493.50,206.01" fill="#0000ef"/>
<polygon points="493.23,205.77 441.90,184.60 442.03,184.73 493.36,205.89" fill="#0000ef"/>
<polygon points="493.10,205.65 441.77,184.46 441.90,184.60 493.23,205.77" fill="#0000ef"/>
<polygon points="492.97,205.53 441.64,184.32 441.77,184.46 493.10,205.65" fill="#0000f3"/>
<polygon points="492.83,205.41 441.50,184.17 441.64,184.32 492.97,205.53" fill="#0000f3"/>
<polygon points="492.70,205.25 441.37,184.02 441.50,184.17 492.83,205.41" fill="#0000f7"/>
<polygon points="492.57,204.85 441.24,183.86 441.37,184.02 492.70,205.25" fill="#0000f7"/>
<polygon points="492.44,204.44 441.11,183.69 441.24,183.86 492.57,204.85" fill="#0000fb"/>
<polygon points="492.30,204.02 440.97,183.52 441.11,183.69 492.44,204.44" fill="#0000ff"/>
<polygon points="492.17,203.58 440.84,183.34 440.97,183.52 492.30,204.02" fill="#0004ff"/>
<polygon points="492.04,203.13 440.71,183.16 440.84,183.34 492.17,203.58" fill="#000cff"/>
<polygon points="491.91,202.66 440.58,182.97 440.71,183.16 492.04,203.13" fill="#0010ff"/>
<polygon points="491.83,202.39 440.50,182.75 440.58,182.97 491.91,202.66" fill="#0010ff"/>
<polygon points="491.76,202.12 440.43,182.48 440.50,182.75 491.83,202.39" fill="#0014ff"/>
<polygon points="491.69,201.85 440.36,182.20 440.43,182.48 491.76,202.12" fill="#0018ff"/>
<polygon points="491.62,201.55 440.28,181.91 440.36,182.20 491.69,201.85" fill="#0018ff"/>
<polygon points="491.54,201.24 440.21,181.61 440.28,181.91 491.62,201.55" fill="#001cff"/>
<polygon points="491.47,200.92 440.14,181.30 440.21,181.61 491.54,201.24" fill="#0020ff"/>
<polygon points="491.40,200.59 440.07,180.98 440.14,181.30 491.47,200.92" fill="#0020ff"/>
<polygon points="491.32,200.26 439.99,180.65 440.07,180.98 491.40,200.59" fill="#0024ff"/>
<polygon points="491.25,199.93 439.92,180.30 439.99,180.65 491.32,200.26" fill="#0028ff"/>
<polygon points="491.18,199.58 439.85,179.94 439.92,180.30 491.25,199.93" fill="#002cff"/>
<polygon points="491.11,199.23 439.77,179.56 439.85,179.94 491.18,199.58" fill="#002cff"/>
<polygon points="491.03,198.87 439.70,179.17 439.77,179.56 491.11,199.23" fill="#0030ff"/>
<polygon points="490.96,198.51 439.63,178.77 439.70,179.17 491.03,198.87" fill="#0034ff"/>
<polygon points="490.89,198.13 439.56,178.35 439.63,178.77 490.96,198.51" fill="#0038ff"/>
<polygon points="490.82,197.67 439.48,177.91 439.56,178.35 490.89,198.13" fill="#003cff"/>
<polygon points="490.74,196.97 439.41,177.46 439.48,177.91 490.82,197.67" fill="#0044ff"/>
<polygon points="490.67,196.25 439.34,176.99 439.41,177.46 490.74,196.97" fill="#0048ff"/>
<polygon points="490.60,195.50 439.27,176.50 439.34,176.99 490.67,196.25" fill="#0050ff"/>
<polygon points="490.52,194.73 439.19,175.93 439.27,176.50 490.60,195.50" fill="#0054ff"/>
<polygon points="490.45,193.93 439.12,175.26 439.19,175.93 490.52,194.73" fill="#005cff"/>
<polygon points="490.38,193.08 439.05,174.57 439.12,175.26 490.45,193.93" fill="#0064ff"/>
<polygon points="490.31,192.18 438.97,173.84 439.05,174.57 490.38,193.08" fill="#006cff"/>
<polygon points="490.23,191.24 438.90,173.08 438.97,173.84 490.31,192.18" fill="#0074ff"/>
<polygon points="490.16,190.27 438.83,172.29 438.90,173.08 490.23,191.24" fill="#007cff"/>
<polygon points="490.09,189.26 438.76,171.46 438.83,172.29 490.16,190.27" fill="#0083ff"/>
<polygon points="490.01,188.13 438.68,170.59 438.76,171.46 490.09,189.26" fill="#008fff"/>
<polygon points="489.94,186.96 438.61,169.68 438.68,170.59 490.01,188.13" fill="#0097ff"/>
<polygon points="489.87,185.75 438.54,168.70 438.61,169.68 489.94,186.96" fill="#00a3ff"/>
<polygon points="489.80,184.49 438.46,167.64 438.54,168.70 489.87,185.75" fill="#00afff"/>
<polygon points="489.72,183.05 438.39,166.53 438.46,167.64 489.80,184.49" fill="#00bbff"/>
<polygon points="489.65,181.51 438.32,165.36 438.39,166.53 489.72,183.05" fill="#00c7ff"/>
<polygon points="489.58,179.90 438.25,164.14 438.32,165.36 489.65,181.51" fill="#00d7ff"/>
<polygon points="489.50,177.65 438.17,162.85 438.25,164.14 489.58,179.90" fill="#00ebff"/>
<polygon points="489.43,175.27 438.10,161.51 438.17,162.85 489.50,177.65" fill="#00ffff"/>
<polygon points="489.36,172.65 438.03,160.10 438.10,161.51 489.43,175.27" fill="#14ffeb"/>
<polygon points="489.29,170.28 437.95,158.32 438.03,160.10 489.36,172.65" fill="#28ffd7"/>
<polygon points="489.21,168.02 437.88,156.67 437.95,158.32 489.29,170.28" fill="#3cffc3"/>
<polygon points="489.14,166.36 437.81,155.37 437.88,156.67 489.21,168.02" fill="#4cffb3"/>
<polygon points="489.08,164.10 437.75,153.95 437.81,155.37 489.14,166.36" fill="#60ff9f"/>
<polygon points="489.01,161.72 437.68,152.17 437.75,153.95 489.08,164.10" fill="#74ff8b"/>
<polygon points="488.95,159.34 437.62,150.03 437.68,152.17 489.01,161.72" fill="#87ff78"/>
<polygon points="488.86,155.65 437.53,148.38 437.62,150.03 488.95,159.34" fill="#a7ff58"/>
<polygon points="488.77,151.48 437.43,146.01 437.53,148.38 488.86,155.65" fill="#cbff34"/>
<polygon points="488.57,142.30 437.24,137.43 437.43,146.01 488.77,151.48" fill="#ffe300"/>
<polygon points="488.36,130.85 437.03,125.62 437.24,137.43 488.57,142.30" fill="#ff8300"/>
<polygon points="488.13,115.93 436.80,106.97 437.03,125.62 488.36,130.85" fill="#ff0400"/>
<polygon points="487.92,100.39 436.58,74.52 436.80,106.97 488.13,115.93" fill="#800000"/></g>
<g><polygon points="566.34,150.49 532.68,132.32 534.00,131.90 567.66,150.08" fill="#000083"/>
<polygon points="563.69,151.32 530.03,133.16 532.68,132.32 566.34,150.49" fill="#000083"/>
<polygon points="561.04,152.15 527.38,134.00 530.03,133.16 563.69,151.32" fill="#000083"/>
<polygon points="558.39,152.98 524.73,134.85 527.38,134.00 561.04,152.15" fill="#000083"/>
<polygon points="555.74,153.80 522.08,135.69 524.73,134.85 558.39,152.98" fill="#000083"/>
<polygon points="553.10,154.63 519.44,136.53 522.08,135.69 555.74,153.80" fill="#000083"/>
<polygon points="550.45,155.45 516.79,137.37 519.44,136.53 553.10,154.63" fill="#000083"/>
<polygon points="547.80,156.28 514.14,138.21 516.79,137.37 550.45,155.45" fill="#000087"/>
<polygon points="545.15,157.10 511.49,139.06 514.14,138.21 547.80,156.28" fill="#000087"/>
<polygon points="542.50,157.93 508.84,139.90 511.49,139.06 545.15,157.10" fill="#000087"/>
<polygon points="539.86,158.75 506.20,140.74 508.84,139.90 542.50,157.93" fill="#000087"/>
<polygon points="537.21,159.57 503.55,141.58 506.20,140.74 539.86,158.75" fill="#000087"/>
<polygon points="534.56,160.39 500.90,142.42 503.55,141.58 537.21,159.57" fill="#000087"/>
<polygon points="531.91,161.21 498.25,143.27 500.90,142.42 534.56,160.39" fill="#000087"/>
<polygon points="529.26,162.03 495.60,144.11 498.25,143.27 531.91,161.21" fill="#000087"/>
<polygon points="526.62,162.85 492.96,144.95 495.60,144.11 529.26,162.03" fill="#000087"/>
<polygon points="523.97,163.67 490.31,145.79 492.96,144.95 526.62,162.85" fill="#000087"/>
<polygon points="521.32,164.49 487.66,146.63 490.31,145.79 523.97,163.67" fill="#000087"/>
<polygon points="518.67,165.30 485.01,147.48 487.66,146.63 521.32,164.49" fill="#000087"/>
<polygon points="516.02,166.12 482.36,148.32 485.01,147.48 518.67,165.30" fill="#000087"/>
<polygon points="513.38,166.93 479.72,149.16 482.36,148.32 516.02,166.12" fill="#000087"/>
<polygon points="510.73,167.74 477.07,150.00 479.72,149.16 513.38,166.93" fill="#000087"/>
<polygon points="508.08,168.56 474.42,150.84 477.07,150.00 510.73,167.74" fill="#000087"/>
<polygon points="505.43,169.37 471.77,151.69 474.42,150.84 508.08,168.56" fill="#000087"/>
<polygon points="502.78,170.18 469.12,152.53 471.77,151.69 505.43,169.37" fill="#000087"/>
<polygon points="500.14,170.98 466.48,153.37 469.12,152.53 502.78,170.18" fill="#000087"/>
<polygon points="497.49,171.79 463.83,154.21 466.48,153.37 500.14,170.98" fill="#00008b"/>
<polygon points="494.84,172.60 461.18,155.05 463.83,154.21 497.49,171.79" fill="#00008b"/>
<polygon points="617.67,177.10 566.34,150.49 567.66,150.08 618.99,176.73" fill="#000093"/>
<polygon points="492.19,173.40 458.53,155.90 461.18,155.05 494.84,172.60" fill="#00008b"/>
<polygon points="615.02,177.83 563.69,151.32 566.34,150.49 617.67,177.10" fill="#000093"/>
<polygon points="489.54,174.20 455.88,156.74 458.53,155.90 492.19,173.40" fill="#00008b"/>
<polygon points="612.37,178.54 561.04,152.15 563.69,151.32 615.02,177.83" fill="#000093"/>
<polygon points="486.90,175.00 453.24,157.58 455.88,156.74 489.54,174.20" fill="#00008b"/>
<polygon points="609.72,179.34 558.39,152.98 561.04,152.15 612.37,178.54" fill="#000093"/>
<polygon points="484.25,175.80 450.59,158.42 453.24,157.58 486.90,175.00" fill="#00008b"/>
<polygon points="607.08,180.14 555.74,153.80 558.39,152.98 609.72,179.34" fill="#000097"/>
<polygon points="481.60,176.60 447.94,159.26 450.59,158.42 484.25,175.80" fill="#00008b"/>
<polygon points="604.43,180.94 553.10,154.63 555.74,153.80 607.08,180.14" fill="#000097"/>
<polygon points="478.95,177.40 445.29,160.10 447.94,159.26 481.60,176.60" fill="#00008b"/>
<polygon points="601.78,181.74 550.45,155.45 553.10,154.63 604.43,180.94" fill="#000097"/>
<polygon points="476.30,178.19 442.64,160.95 445.29,160.10 478.95,177.40" fill="#00008b"/>
<polygon points="599.13,182.54 547.80,156.28 550.45,155.45 601.78,181.74" fill="#000097"/>
<polygon points="473.66,178.99 440.00,161.79 442.64,160.95 476.30,178.19" fill="#00008b"/>
<polygon points="596.48,183.34 545.15,157.10 547.80,156.28 599.13,182.54" fill="#000097"/>
<polygon points="471.01,179.78 437.35,162.63 440.00,161.79 473.66,178.99" fill="#00008b"/>
<polygon points="593.84,184.13 542.50,157.93 545.15,157.10 596.48,183.34" fill="#000097"/>
<polygon points="468.36,180.57 434.70,163.47 437.35,162.63 471.01,179.78" fill="#00008f"/>
<polygon points="591.19,184.93 539.86,158.75 542.50,157.93 593.84,184.13" fill="#000097"/>
<polygon points="465.71,181.35 432.05,164.31 434.70,163.47 468.36,180.57" fill="#00008f"/>
<polygon points="588.54,185.73 537.21,159.57 539.86,158.75 591.19,184.93" fill="#000097"/>
<polygon points="463.06,182.14 429.40,165.15 432.05,164.31 465.71,181.35" fill="#00008f"/>
<polygon points="585.89,186.53 534.56,160.39 537.21,159.57 588.54,185.73" fill="#000097"/>
<polygon points="462.40,182.30 428.74,165.36 429.40,165.15 463.06,182.14" fill="#00008f"/>
<polygon points="461.74,182.45 428.08,165.57 428.74,165.36 462.40,182.30" fill="#00008f"/>
<polygon points="461.08,182.61 427.42,165.78 428.08,165.57 461.74,182.45" fill="#00008f"/>
<polygon points="460.42,182.76 426.76,165.99 427.42,165.78 461.08,182.61" fill="#00008f"/>
<polygon points="583.24,187.33 531.91,161.21 534.56,160.39 585.89,186.53" fill="#000097"/>
<polygon points="459.75,182.91 426.09,166.20 426.76,165.99 460.42,182.76" fill="#00008f"/>
<polygon points="459.09,183.06 425.43,166.41 426.09,166.20 459.75,182.91" fill="#000093"/>
<polygon points="458.43,183.20 424.77,166.62 425.43,166.41 459.09,183.06" fill="#000093"/>
<polygon points="457.77,183.35 424.11,166.83 424.77,166.62 458.43,183.20" fill="#000093"/>
<polygon points="580.60,188.13 529.26,162.03 531.91,161.21 583.24,187.33" fill="#000097"/>
<polygon points="457.11,183.49 423.45,167.04 424.11,166.83 457.77,183.35" fill="#000093"/>
<polygon points="456.44,183.63 422.78,167.25 423.45,167.04 457.11,183.49" fill="#000093"/>
<polygon points="455.78,183.77 422.12,167.46 422.78,167.25 456.44,183.63" fill="#000093"/>
<polygon points="455.12,183.90 421.46,167.67 422.12,167.46 455.78,183.77" fill="#000093"/>
<polygon points="577.95,188.93 526.62,162.85 529.26,162.03 580.60,188.13" fill="#00009b"/>
<polygon points="454.46,184.03 420.80,167.88 421.46,167.67 455.12,183.90" fill="#000097"/>
<polygon points="453.80,184.16 420.14,168.09 420.80,167.88 454.46,184.03" fill="#000097"/>
<polygon points="453.13,184.29 419.47,168.30 420.14,168.09 453.80,184.16" fill="#000097"/>
<polygon points="452.47,184.41 418.81,168.51 419.47,168.30 453.13,184.29" fill="#000097"/>
<polygon points="575.30,189.72 523.97,163.67 526.62,162.85 577.95,188.93" fill="#00009b"/>
<polygon points="451.81,184.53 418.15,168.72 418.81,168.51 452.47,184.41" fill="#000097"/>
<polygon points="451.15,184.65 417.49,168.93 418.15,168.72 451.81,184.53" fill="#00009b"/>
<polygon points="450.49,184.77 416.83,169.14 417.49,168.93 451.15,184.65" fill="#00009b"/>
<polygon points="449.82,184.88 416.16,169.35 416.83,169.14 450.49,184.77" fill="#00009b"/>
<polygon points="572.65,190.52 521.32,164.49 523.97,163.67 575.30,189.72" fill="#00009b"/>
<polygon points="449.16,184.99 415.50,169.56 416.16,169.35 449.82,184.88" fill="#00009b"/>
<polygon points="448.50,185.09 414.84,169.77 415.50,169.56 449.16,184.99" fill="#00009b"/>
<polygon points="448.39,185.10 414.73,169.80 414.84,169.77 448.50,185.09" fill="#00009b"/>
<polygon points="448.26,185.12 414.60,169.84 414.73,169.80 448.39,185.10" fill="#00009f"/>
<polygon points="448.12,185.14 414.46,169.88 414.60,169.84 448.26,185.12" fill="#00009f"/>
<polygon points="447.99,185.15 414.33,169.92 414.46,169.88 448.12,185.14" fill="#00009f"/>
<polygon points="447.86,185.17 414.20,169.96 414.33,169.92 447.99,185.15" fill="#00009f"/>
<polygon points="447.73,185.19 414.07,170.00 414.20,169.96 447.86,185.17" fill="#00009f"/>
<polygon points="447.59,185.20 413.93,170.04 414.07,170.00 447.73,185.19" fill="#00009f"/>
<polygon points="447.46,185.22 413.80,170.08 413.93,170.04 447.59,185.20" fill="#00009f"/>
<polygon points="447.33,185.23 413.67,170.12 413.80,170.08 447.46,185.22" fill="#00009f"/>
<polygon points="570.00,191.32 518.67,165.30 521.32,164.49 572.65,190.52" fill="#00009b"/>
<polygon points="447.20,185.25 413.54,170.15 413.67,170.12 447.33,185.23" fill="#00009f"/>
<polygon points="447.06,185.27 413.40,170.19 413.54,170.15 447.20,185.25" fill="#00009f"/>
<polygon points="446.93,185.28 413.27,170.23 413.40,170.19 447.06,185.27" fill="#00009f"/>
<polygon points="446.80,185.29 413.14,170.26 413.27,170.23 446.93,185.28" fill="#00009f"/>
<polygon points="446.67,185.31 413.01,170.30 413.14,170.26 446.80,185.29" fill="#00009f"/>
<polygon points="446.53,185.32 412.87,170.33 413.01,170.30 446.67,185.31" fill="#00009f"/>
<polygon points="446.40,185.34 412.74,170.37 412.87,170.33 446.53,185.32" fill="#00009f"/>
<polygon points="446.27,185.35 412.61,170.40 412.74,170.37 446.40,185.34" fill="#00009f"/>
<polygon points="446.14,185.37 412.48,170.43 412.61,170.40 446.27,185.35" fill="#00009f"/>
<polygon points="446.00,185.38 412.34,170.46 412.48,170.43 446.14,185.37" fill="#00009f"/>
<polygon points="445.87,185.39 412.21,170.49 412.34,170.46 446.00,185.38" fill="#0000a3"/>
<polygon points="445.74,185.40 412.08,170.52 412.21,170.49 445.87,185.39" fill="#0000a3"/>
<polygon points="445.61,185.42 411.95,170.55 412.08,170.52 445.74,185.40" fill="#0000a3"/>
<polygon points="445.47,185.43 411.81,170.58 411.95,170.55 445.61,185.42" fill="#0000a3"/>
<polygon points="445.34,185.44 411.68,170.60 411.81,170.58 445.47,185.43" fill="#0000a3"/>
<polygon points="445.21,185.45 411.55,170.62 411.68,170.60 445.34,185.44" fill="#0000a3"/>
<polygon points="445.08,185.47 411.42,170.64 411.55,170.62 445.21,185.45" fill="#0000a3"/>
<polygon points="444.95,185.48 411.29,170.66 411.42,170.64 445.08,185.47" fill="#0000a3"/>
<polygon points="444.81,185.49 411.15,170.68 411.29,170.66 444.95,185.48" fill="#0000a3"/>
<polygon points="444.68,185.50 411.02,170.69 411.15,170.68 444.81,185.49" fill="#0000a3"/>
<polygon points="567.36,192.11 516.02,166.12 518.67,165.30 570.00,191.32" fill="#00009b"/>
<polygon points="444.55,185.51 410.89,170.70 411.02,170.69 444.68,185.50" fill="#0000a3"/>
<polygon points="444.42,185.50 410.76,170.70 410.89,170.70 444.55,185.51" fill="#0000a3"/>
<polygon points="444.28,185.48 410.62,170.71 410.76,170.70 444.42,185.50" fill="#0000a3"/>
<polygon points="444.15,185.47 410.49,170.71 410.62,170.71 444.28,185.48" fill="#0000a7"/>
<polygon points="444.02,185.45 410.36,170.70 410.49,170.71 444.15,185.47" fill="#0000a7"/>
<polygon points="443.89,185.43 410.23,170.69 410.36,170.70 444.02,185.45" fill="#0000a7"/>
<polygon points="443.75,185.41 410.09,170.67 410.23,170.69 443.89,185.43" fill="#0000a7"/>
<polygon points="443.62,185.39 409.96,170.65 410.09,170.67 443.75,185.41" fill="#0000a7"/>
<polygon points="443.49,185.37 409.83,170.62 409.96,170.65 443.62,185.39" fill="#0000a7"/>
<polygon points="443.36,185.34 409.70,170.59 409.83,170.62 443.49,185.37" fill="#0000a7"/>
<polygon points="443.22,185.32 409.56,170.55 409.70,170.59 443.36,185.34" fill="#0000a7"/>
<polygon points="443.09,185.30 409.43,170.49 409.56,170.55 443.22,185.32" fill="#0000ab"/>
<polygon points="442.96,185.27 409.30,170.43 409.43,170.49 443.09,185.30" fill="#0000ab"/>
<polygon points="442.83,185.24 409.17,170.36 409.30,170.43 442.96,185.27" fill="#0000ab"/>
<polygon points="442.69,185.22 409.03,170.27 409.17,170.36 442.83,185.24" fill="#0000ab"/>
<polygon points="442.56,185.19 408.90,170.18 409.03,170.27 442.69,185.22" fill="#0000ab"/>
<polygon points="442.43,185.09 408.77,170.06 408.90,170.18 442.56,185.19" fill="#0000af"/>
<polygon points="442.30,184.97 408.64,169.94 408.77,170.06 442.43,185.09" fill="#0000af"/>
<polygon points="442.16,184.85 408.50,169.79 408.64,169.94 442.30,184.97" fill="#0000af"/>
<polygon points="442.03,184.73 408.37,169.63 408.50,169.79 442.16,184.85" fill="#0000b3"/>
<polygon points="564.71,192.90 513.38,166.93 516.02,166.12 567.36,192.11" fill="#00009b"/>
<polygon points="441.90,184.60 408.24,169.44 408.37,169.63 442.03,184.73" fill="#0000b3"/>
<polygon points="441.77,184.46 408.11,169.23 408.24,169.44 441.90,184.60" fill="#0000b3"/>
<polygon points="441.64,184.32 407.98,169.00 408.11,169.23 441.77,184.46" fill="#0000b7"/>
<polygon points="441.50,184.17 407.84,168.74 407.98,169.00 441.64,184.32" fill="#0000b7"/>
<polygon points="441.37,184.02 407.71,168.45 407.84,168.74 441.50,184.17" fill="#0000bb"/>
<polygon points="441.24,183.86 407.58,168.13 407.71,168.45 441.37,184.02" fill="#0000bb"/>
<polygon points="441.11,183.69 407.45,167.76 407.58,168.13 441.24,183.86" fill="#0000bb"/>
<polygon points="440.97,183.52 407.31,167.36 407.45,167.76 441.11,183.69" fill="#0000bf"/>
<polygon points="440.84,183.34 407.18,166.91 407.31,167.36 440.97,183.52" fill="#0000bf"/>
<polygon points="440.71,183.16 407.05,166.42 407.18,166.91 440.84,183.34" fill="#0000c3"/>
<polygon points="440.58,182.97 406.92,165.86 407.05,166.42 440.71,183.16" fill="#0000c3"/>
<polygon points="440.50,182.75 406.84,165.54 406.92,165.86 440.58,182.97" fill="#0000c7"/>
<polygon points="440.43,182.48 406.77,165.19 406.84,165.54 440.50,182.75" fill="#0000c7"/>
<polygon points="440.36,182.20 406.70,164.83 406.77,165.19 440.43,182.48" fill="#0000cb"/>
<polygon points="440.28,181.91 406.62,164.44 406.70,164.83 440.36,182.20" fill="#0000cf"/>
<polygon points="440.21,181.61 406.55,164.04 406.62,164.44 440.28,181.91" fill="#0000cf"/>
<polygon points="440.14,181.30 406.48,163.60 406.55,164.04 440.21,181.61" fill="#0000d3"/>
<polygon points="440.07,180.98 406.41,163.15 406.48,163.60 440.14,181.30" fill="#0000d7"/>
<polygon points="439.99,180.65 406.33,162.67 406.41,163.15 440.07,180.98" fill="#0000db"/>
<polygon points="439.92,180.30 406.26,162.16 406.33,162.67 439.99,180.65" fill="#0000db"/>
<polygon points="439.85,179.94 406.19,161.61 406.26,162.16 439.92,180.30" fill="#0000df"/>
<polygon points="439.77,179.56 406.11,161.03 406.19,161.61 439.85,179.94" fill="#0000e3"/>
<polygon points="439.70,179.17 406.04,160.41 406.11,161.03 439.77,179.56" fill="#0000e7"/>
<polygon points="439.63,178.77 405.97,159.75 406.04,160.41 439.70,179.17" fill="#0000eb"/>
<polygon points="439.56,178.35 405.90,159.06 405.97,159.75 439.63,178.77" fill="#0000ef"/>
<polygon points="439.48,177.91 405.82,158.33 405.90,159.06 439.56,178.35" fill="#0000f3"/>
<polygon points="439.41,177.46 405.75,157.55 405.82,158.33 439.48,177.91" fill="#0000f7"/>
<polygon points="562.06,193.68 510.73,167.74 513.38,166.93 564.71,192.90" fill="#00009b"/>
<polygon points="439.34,176.99 405.68,156.73 405.75,157.55 439.41,177.46" fill="#0000fb"/>
<polygon points="439.27,176.50 405.61,155.87 405.68,156.73 439.34,176.99" fill="#0000ff"/>
<polygon points="439.19,175.93 405.53,154.96 405.61,155.87 439.27,176.50" fill="#0004ff"/>
<polygon points="439.12,175.26 405.46,154.02 405.53,154.96 439.19,175.93" fill="#000cff"/>
<polygon points="439.05,174.57 405.39,153.02 405.46,154.02 439.12,175.26" fill="#0010ff"/>
<polygon points="438.97,173.84 405.31,151.97 405.39,153.02 439.05,174.57" fill="#0018ff"/>
<polygon points="438.90,173.08 405.24,150.86 405.31,151.97 438.97,173.84" fill="#0020ff"/>
<polygon points="438.83,172.29 405.17,149.69 405.24,150.86 438.90,173.08" fill="#0024ff"/>
<polygon points="438.76,171.46 405.10,148.45 405.17,149.69 438.83,172.29" fill="#002cff"/>
<polygon points="438.68,170.59 405.02,147.15 405.10,148.45 438.76,171.46" fill="#0034ff"/>
<polygon points="438.61,169.68 404.95,145.77 405.02,147.15 438.68,170.59" fill="#003cff"/>
<polygon points="438.54,168.70 404.88,144.31 404.95,145.77 438.61,169.68" fill="#0044ff"/>
<polygon points="438.46,167.64 404.80,142.76 404.88,144.31 438.54,168.70" fill="#004cff"/>
<polygon points="438.39,166.53 404.73,141.12 404.80,142.76 438.46,167.64" fill="#0058ff"/>
<polygon points="438.32,165.36 404.66,139.39 404.73,141.12 438.39,166.53" fill="#0060ff"/>
<polygon points="438.25,164.14 404.59,137.56 404.66,139.39 438.32,165.36" fill="#006cff"/>
<polygon points="438.17,162.85 404.51,135.64 404.59,137.56 438.25,164.14" fill="#0078ff"/>
<polygon points="438.10,161.51 404.44,133.60 404.51,135.64 438.17,162.85" fill="#0083ff"/>
<polygon points="438.03,160.10 404.37,131.45 404.44,133.60 438.10,161.51" fill="#008fff"/>
<polygon points="437.95,158.32 404.29,129.19 404.37,131.45 438.03,160.10" fill="#009fff"/>
<polygon points="437.88,156.67 404.22,126.80 404.29,129.19 437.95,158.32" fill="#00abff"/>
<polygon points="437.81,155.37 404.15,124.28 404.22,126.80 437.88,156.67" fill="#00b7ff"/>
<polygon points="437.75,153.95 404.09,122.03 404.15,124.28 437.81,155.37" fill="#00c3ff"/>
<polygon points="437.68,152.17 404.02,119.61 404.09,122.03 437.75,153.95" fill="#00d3ff"/>
<polygon points="437.62,150.03 403.96,117.04 404.02,119.61 437.68,152.17" fill="#00e7ff"/>
<polygon points="437.53,148.38 403.87,112.51 403.96,117.04 437.62,150.03" fill="#00f3ff"/>
<polygon points="437.43,146.01 403.77,107.31 403.87,112.51 437.53,148.38" fill="#08fff7"/>
<polygon points="437.24,137.43 403.58,98.73 403.77,107.31 437.43,146.01" fill="#54ffab"/>
<polygon points="437.03,125.62 403.37,86.08 403.58,98.73 437.24,137.43" fill="#b7ff48"/>
<polygon points="436.80,106.97 403.14,71.87 403.37,86.08 437.03,125.62" fill="#ffa700"/>
<polygon points="559.41,194.47 508.08,168.56 510.73,167.74 562.06,193.68" fill="#00009b"/>
<polygon points="436.58,74.52 402.92,53.58 403.14,71.87 436.80,106.97" fill="#930000"/>
<polygon points="556.76,195.25 505.43,169.37 508.08,168.56 559.41,194.47" fill="#00009b"/>
<polygon points="554.12,196.04 502.78,170.18 505.43,169.37 556.76,195.25" fill="#00009f"/>
<polygon points="551.47,196.82 500.14,170.98 502.78,170.18 554.12,196.04" fill="#00009f"/>
<polygon points="548.82,197.60 497.49,171.79 500.14,170.98 551.47,196.82" fill="#00009f"/>
<polygon points="546.17,198.38 494.84,172.60 497.49,171.79 548.82,197.60" fill="#00009f"/>
<polygon points="543.52,199.14 492.19,173.40 494.84,172.60 546.17,198.38" fill="#00009f"/>
<polygon points="540.88,199.90 489.54,174.20 492.19,173.40 543.52,199.14" fill="#00009f"/>
<polygon points="538.23,200.66 486.90,175.00 489.54,174.20 540.88,199.90" fill="#00009f"/>
<polygon points="535.58,201.41 484.25,175.80 486.90,175.00 538.23,200.66" fill="#0000a3"/>
<polygon points="532.93,202.17 481.60,176.60 484.25,175.80 535.58,201.41" fill="#0000a3"/>
<polygon points="530.28,202.92 478.95,177.40 481.60,176.60 532.93,202.17" fill="#0000a3"/>
<polygon points="527.64,203.67 476.30,178.19 478.95,177.40 530.28,202.92" fill="#0000a3"/>
<polygon points="524.99,204.42 473.66,178.99 476.30,178.19 527.64,203.67" fill="#0000a3"/>
<polygon points="522.34,204.98 471.01,179.78 473.66,178.99 524.99,204.42" fill="#0000a7"/>
<polygon points="519.69,205.50 468.36,180.57 471.01,179.78 522.34,204.98" fill="#0000ab"/>
<polygon points="517.04,205.98 465.71,181.35 468.36,180.57 519.69,205.50" fill="#0000ab"/>
<polygon points="514.40,206.45 463.06,182.14 465.71,181.35 517.04,205.98" fill="#0000af"/>
<polygon points="513.73,206.56 462.40,182.30 463.06,182.14 514.40,206.45" fill="#0000af"/>
<polygon points="513.07,206.67 461.74,182.45 462.40,182.30 513.73,206.56" fill="#0000b3"/>
<polygon points="512.41,206.78 461.08,182.61 461.74,182.45 513.07,206.67" fill="#0000b3"/>
<polygon points="511.75,206.88 460.42,182.76 461.08,182.61 512.41,206.78" fill="#0000b3"/>
<polygon points="511.09,206.98 459.75,182.91 460.42,182.76 511.75,206.88" fill="#0000b3"/>
<polygon points="510.42,207.09 459.09,183.06 459.75,182.91 511.09,206.98" fill="#0000b7"/>
<polygon points="509.76,207.19 458.43,183.20 459.09,183.06 510.42,207.09" fill="#0000b7"/>
<polygon points="509.10,207.28 457.77,183.35 458.43,183.20 509.76,207.19" fill="#0000b7"/>
<polygon points="508.44,207.38 457.11,183.49 457.77,183.35 509.10,207.28" fill="#0000b7"/>
<polygon points="507.78,207.47 456.44,183.63 457.11,183.49 508.44,207.38" fill="#0000bb"/>
<polygon points="507.11,207.57 455.78,183.77 456.44,183.63 507.78,207.47" fill="#0000bb"/>
<polygon points="506.45,207.66 455.12,183.90 455.78,183.77 507.11,207.57" fill="#0000bb"/>
<polygon points="505.79,207.74 454.46,184.03 455.12,183.90 506.45,207.66" fill="#0000bb"/>
<polygon points="505.13,207.83 453.80,184.16 454.46,184.03 505.79,207.74" fill="#0000bf"/>
<polygon points="504.47,207.91 453.13,184.29 453.80,184.16 505.13,207.83" fill="#0000bf"/>
<polygon points="503.80,207.99 452.47,184.41 453.13,184.29 504.47,207.91" fill="#0000bf"/>
<polygon points="503.14,208.07 451.81,184.53 452.47,184.41 503.80,207.99" fill="#0000bf"/>
<polygon points="502.48,208.17 451.15,184.65 451.81,184.53 503.14,208.07" fill="#0000c3"/>
<polygon points="501.82,208.30 450.49,184.77 451.15,184.65 502.48,208.17" fill="#0000c3"/>
<polygon points="501.16,208.43 449.82,184.88 450.49,184.77 501.82,208.30" fill="#0000c3"/>
<polygon points="500.49,208.56 449.16,184.99 449.82,184.88 501.16,208.43" fill="#0000c3"/>
<polygon points="499.83,208.68 448.50,185.09 449.16,184.99 500.49,208.56" fill="#0000c3"/>
<polygon points="499.72,208.58 448.39,185.10 448.50,185.09 499.83,208.68" fill="#0000c7"/>
<polygon points="499.59,208.46 448.26,185.12 448.39,185.10 499.72,208.58" fill="#0000c7"/>
<polygon points="499.45,208.34 448.12,185.14 448.26,185.12 499.59,208.46" fill="#0000c7"/>
<polygon points="499.32,208.21 447.99,185.15 448.12,185.14 499.45,208.34" fill="#0000cb"/>
<polygon points="499.19,208.07 447.86,185.17 447.99,185.15 499.32,208.21" fill="#0000cb"/>
<polygon points="499.06,208.00 447.73,185.19 447.86,185.17 499.19,208.07" fill="#0000cb"/>
<polygon points="498.92,207.94 447.59,185.20 447.73,185.19 499.06,208.00" fill="#0000cf"/>
<polygon points="498.79,207.88 447.46,185.22 447.59,185.20 498.92,207.94" fill="#0000cf"/>
<polygon points="498.66,207.82 447.33,185.23 447.46,185.22 498.79,207.88" fill="#0000cf"/>
<polygon points="498.53,207.75 447.20,185.25 447.33,185.23 498.66,207.82" fill="#0000cf"/>
<polygon points="498.39,207.68 447.06,185.27 447.20,185.25 498.53,207.75" fill="#0000d3"/>
<polygon points="498.26,207.62 446.93,185.28 447.06,185.27 498.39,207.68" fill="#0000d3"/>
<polygon points="498.13,207.55 446.80,185.29 446.93,185.28 498.26,207.62" fill="#0000d3"/>
<polygon points="498.00,207.48 446.67,185.31 446.80,185.29 498.13,207.55" fill="#0000d3"/>
<polygon points="497.87,207.41 446.53,185.32 446.67,185.31 498.00,207.48" fill="#0000d3"/>
<polygon points="497.73,207.38 446.40,185.34 446.53,185.32 497.87,207.41" fill="#0000d7"/>
<polygon points="497.60,207.36 446.27,185.35 446.40,185.34 497.73,207.38" fill="#0000d7"/>
<polygon points="497.47,207.33 446.14,185.37 446.27,185.35 497.60,207.36" fill="#0000d7"/>
<polygon points="497.34,207.31 446.00,185.38 446.14,185.37 497.47,207.33" fill="#0000d7"/>
<polygon points="497.20,207.29 445.87,185.39 446.00,185.38 497.34,207.31" fill="#0000d7"/>
<polygon points="497.07,207.26 445.74,185.40 445.87,185.39 497.20,207.29" fill="#0000d7"/>
<polygon points="496.94,207.24 445.61,185.42 445.74,185.40 497.07,207.26" fill="#0000d7"/>
<polygon points="496.81,207.22 445.47,185.43 445.61,185.42 496.94,207.24" fill="#0000db"/>
<polygon points="496.67,207.19 445.34,185.44 445.47,185.43 496.81,207.22" fill="#0000db"/>
<polygon points="496.54,207.17 445.21,185.45 445.34,185.44 496.67,207.19" fill="#0000db"/>
<polygon points="496.41,207.14 445.08,185.47 445.21,185.45 496.54,207.17" fill="#0000db"/>
<polygon points="496.28,207.13 444.95,185.48 445.08,185.47 496.41,207.14" fill="#0000db"/>
<polygon points="496.14,207.11 444.81,185.49 444.95,185.48 496.28,207.13" fill="#0000db"/>
<polygon points="496.01,207.10 444.68,185.50 444.81,185.49 496.14,207.11" fill="#0000db"/>
<polygon points="495.88,207.08 444.55,185.51 444.68,185.50 496.01,207.10" fill="#0000db"/>
<polygon points="495.75,207.07 444.42,185.50 444.55,185.51 495.88,207.08" fill="#0000df"/>
<polygon points="495.61,207.05 444.28,185.48 444.42,185.50 495.75,207.07" fill="#0000df"/>
<polygon points="495.48,207.04 444.15,185.47 444.28,185.48 495.61,207.05" fill="#0000df"/>
<polygon points="495.35,207.02 444.02,185.45 444.15,185.47 495.48,207.04" fill="#0000df"/>
<polygon points="495.22,207.01 443.89,185.43 444.02,185.45 495.35,207.02" fill="#0000df"/>
<polygon points="495.08,206.99 443.75,185.41 443.89,185.43 495.22,207.01" fill="#0000df"/>
<polygon points="494.95,206.95 443.62,185.39 443.75,185.41 495.08,206.99" fill="#0000df"/>
<polygon points="494.82,206.88 443.49,185.37 443.62,185.39 494.95,206.95" fill="#0000e3"/>
<polygon points="494.69,206.80 443.36,185.34 443.49,185.37 494.82,206.88" fill="#0000e3"/>
<polygon points="494.56,206.72 443.22,185.32 443.36,185.34 494.69,206.80" fill="#0000e3"/>
<polygon points="494.42,206.63 443.09,185.30 443.22,185.32 494.56,206.72" fill="#0000e3"/>
<polygon points="494.29,206.55 442.96,185.27 443.09,185.30 494.42,206.63" fill="#0000e7"/>
<polygon points="494.16,206.47 442.83,185.24 442.96,185.27 494.29,206.55" fill="#0000e7"/>
<polygon points="494.03,206.38 442.69,185.22 442.83,185.24 494.16,206.47" fill="#0000e7"/>
<polygon points="493.89,206.29 442.56,185.19 442.69,185.22 494.03,206.38" fill="#0000eb"/>
<polygon points="493.76,206.21 442.43,185.09 442.56,185.19 493.89,206.29" fill="#0000eb"/>
<polygon points="493.63,206.12 442.30,184.97 442.43,185.09 493.76,206.21" fill="#0000eb"/>
<polygon points="493.50,206.01 442.16,184.85 442.30,184.97 493.63,206.12" fill="#0000eb"/>
<polygon points="493.36,205.89 442.03,184.73 442.16,184.85 493.50,206.01" fill="#0000ef"/>
<polygon points="493.23,205.77 441.90,184.60 442.03,184.73 493.36,205.89" fill="#0000ef"/>
<polygon points="493.10,205.65 441.77,184.46 441.90,184.60 493.23,205.77" fill="#0000ef"/>
<polygon points="492.97,205.53 441.64,184.32 441.77,184.46 493.10,205.65" fill="#0000f3"/>
<polygon points="492.83,205.41 441.50,184.17 441.64,184.32 492.97,205.53" fill="#0000f3"/>
<polygon points="492.70,205.25 441.37,184.02 441.50,184.17 492.83,205.41" fill="#0000f7"/>
<polygon points="492.57,204.85 441.24,183.86 441.37,184.02 492.70,205.25" fill="#0000f7"/>
<polygon points="492.44,204.44 441.11,183.69 441.24,183.86 492.57,204.85" fill="#0000fb"/>
<polygon points="492.30,204.02 440.97,183.52 441.11,183.69 492.44,204.44" fill="#0000ff"/>
<polygon points="492.17,203.58 440.84,183.34 440.97,183.52 492.30,204.02" fill="#0004ff"/>
<polygon points="492.04,203.13 440.71,183.16 440.84,183.34 492.17,203.58" fill="#000cff"/>
<polygon points="491.91,202.66 440.58,182.97 440.71,183.16 492.04,203.13" fill="#0010ff"/>
<polygon points="491.83,202.39 440.50,182.75 440.58,182.97 491.91,202.66" fill="#0010ff"/>
<polygon points="491.76,202.12 440.43,182.48 440.50,182.75 491.83,202.39" fill="#0014ff"/>
<polygon points="491.69,201.85 440.36,182.20 440.43,182.48 491.76,202.12" fill="#0018ff"/>
<polygon points="491.62,201.55 440.28,181.91 440.36,182.20 491.69,201.85" fill="#0018ff"/>
<polygon points="491.54,201.24 440.21,181.61 440.28,181.91 491.62,201.55" fill="#001cff"/>
<polygon points="491.47,200.92 440.14,181.30 440.21,181.61 491.54,201.24" fill="#0020ff"/>
<polygon points="491.40,200.59 440.07,180.98 440.14,181.30 491.47,200.92" fill="#0020ff"/>
<polygon points="491.32,200.26 439.99,180.65 440.07,180.98 491.40,200.59" fill="#0024ff"/>
<polygon points="491.25,199.93 439.92,180.30 439.99,180.65 491.32,200.26" fill="#0028ff"/>
<polygon points="491.18,199.58 439.85,179.94 439.92,180.30 491.25,199.93" fill="#002cff"/>
<polygon points="491.11,199.23 439.77,179.56 439.85,179.94 491.18,199.58" fill="#002cff"/>
<polygon points="491.03,198.87 439.70,179.17 439.77,179.56 491.11,199.23" fill="#0030ff"/>
<polygon points="490.96,198.51 439.63,178.77 439.70,179.17 491.03,198.87" fill="#0034ff"/>
<polygon points="490.89,198.13 439.56,178.35 439.63,178.77 490.96,198.51" fill="#0038ff"/>
<polygon points="490.82,197.67 439.48,177.91 439.56,178.35 490.89,198.13" fill="#003cff"/>
<polygon points="490.74,196.97 439.41,177.46 439.48,177.91 490.82,197.67" fill="#0044ff"/>
<polygon points="490.67,196.25 439.34,176.99 439.41,177.46 490.74,196.97" fill="#0048ff"/>
<polygon points="490.60,195.50 439.27,176.50 439.34,176.99 490.67,196.25" fill="#0050ff"/>
<polygon points="490.52,194.73 439.19,175.93 439.27,176.50 490.60,195.50" fill="#0054ff"/>
<polygon points="490.45,193.93 439.12,175.26 439.19,175.93 490.52,194.73" fill="#005cff"/>
<polygon points="490.38,193.08 439.05,174.57 439.12,175.26 490.45,193.93" fill="#0064ff"/>
<polygon points="490.31,192.18 438.97,173.84 439.05,174.57 490.38,193.08" fill="#006cff"/>
<polygon points="490.23,191.24 438.90,173.08 438.97,173.84 490.31,192.18" fill="#0074ff"/>
<polygon points="490.16,190.27 438.83,172.29 438.90,173.08 490.23,191.24" fill="#007cff"/>
<polygon points="490.09,189.26 438.76,171.46 438.83,172.29 490.16,190.27" fill="#0083ff"/>
<polygon points="490.01,188.13 438.68,170.59 438.76,171.46 490.09,189.26" fill="#008fff"/>
<polygon points="489.94,186.96 438.61,169.68 438.68,170.59 490.01,188.13" fill="#0097ff"/>
<polygon points="489.87,185.75 438.54,168.70 438.61,169.68 489.94,186.96" fill="#00a3ff"/>
<polygon points="489.80,184.49 438.46,167.64 438.54,168.70 489.87,185.75" fill="#00afff"/>
<polygon points="489.72,183.05 438.39,166.53 438.46,167.64 489.80,184.49" fill="#00bbff"/>
<polygon points="489.65,181.51 438.32,165.36 438.39,166.53 489.72,183.05" fill="#00c7ff"/>
<polygon points="489.58,179.90 438.25,164.14 438.32,165.36 489.65,181.51" fill="#00d7ff"/>
<polygon points="489.50,177.65 438.17,162.85 438.25,164.14 489.58,179.90" fill="#00ebff"/>
<polygon points="489.43,175.27 438.10,161.51 438.17,162.85 489.50,177.65" fill="#00ffff"/>
<polygon points="489.36,172.65 438.03,160.10 438.10,161.51 489.43,175.27" fill="#14ffeb"/>
<polygon points="489.29,170.28 437.95,158.32 438.03,160.10 489.36,172.65" fill="#28ffd7"/>
<polygon points="489.21,168.02 437.88,156.67 437.95,158.32 489.29,170.28" fill="#3cffc3"/>
<polygon points="489.14,166.36 437.81,155.37 437.88,156.67 489.21,168.02" fill="#4cffb3"/>
<polygon points="489.08,164.10 437.75,153.95 437.81,155.37 489.14,166.36" fill="#60ff9f"/>
<polygon points="489.01,161.72 437.68,152.17 437.75,153.95 489.08,164.10" fill="#74ff8b"/>
<polygon points="488.95,159.34 437.62,150.03 437.68,152.17 489.01,161.72" fill="#87ff78"/>
<polygon points="488.86,155.65 437.53,148.38 437.62,150.03 488.95,159.34" fill="#a7ff58"/>
<polygon points="488.77,151.48 437.43,146.01 437.53,148.38 488.86,155.65" fill="#cbff34"/>
<polygon points="488.57,142.30 437.24,137.43 437.43,146.01 488.77,151.48" fill="#ffe300"/>
<polygon points="488.36,130.85 437.03,125.62 437.24,137.43 488.57,142.30" fill="#ff8300"/>
<polygon points="488.13,115.93 436.80,106.97 437.03,125.62 488.36,130.85" fill="#ff0400"/>
<polygon points="487.92,100.39 436.58,74.52 436.80,106.97 488.13,115.93" fill="#800000"/></g>
<line x1="436.58" y1="74.52" x2="436.80" y2="106.97" stroke="#b01818" stroke-width="0.7"/>
<line x1="502.58" y1="229.62" x2="634.98" y2="187.52" stroke="#555555" stroke-width="0.75"/>
<line x1="502.58" y1="229.62" x2="401.60" y2="174.00" stroke="#555555" stroke-width="0.75"/>
<line x1="401.60" y1="174.00" x2="401.60" y2="54.00" stroke="#707070" stroke-width="0.7"/>
<line x1="399.10" y1="172.80" x2="401.60" y2="174.00" stroke="#555555" stroke-width="0.6"/><line x1="399.10" y1="148.80" x2="401.60" y2="150.00" stroke="#555555" stroke-width="0.6"/><line x1="399.10" y1="124.80" x2="401.60" y2="126.00" stroke="#555555" stroke-width="0.6"/><line x1="399.10" y1="100.80" x2="401.60" y2="102.00" stroke="#555555" stroke-width="0.6"/><line x1="399.10" y1="76.80" x2="401.60" y2="78.00" stroke="#555555" stroke-width="0.6"/><line x1="399.10" y1="52.80" x2="401.60" y2="54.00" stroke="#555555" stroke-width="0.6"/><line x1="502.58" y1="229.62" x2="500.08" y2="230.42" stroke="#555555" stroke-width="0.6"/><line x1="468.92" y1="211.08" x2="466.42" y2="211.88" stroke="#555555" stroke-width="0.6"/><line x1="435.26" y1="192.54" x2="432.76" y2="193.34" stroke="#555555" stroke-width="0.6"/><line x1="401.60" y1="174.00" x2="399.10" y2="174.80" stroke="#555555" stroke-width="0.6"/><line x1="502.58" y1="229.62" x2="504.88" y2="230.87" stroke="#555555" stroke-width="0.6"/><line x1="568.78" y1="208.57" x2="571.08" y2="209.82" stroke="#555555" stroke-width="0.6"/><line x1="634.98" y1="187.52" x2="637.28" y2="188.77" stroke="#555555" stroke-width="0.6"/>
<g fill="#3d3d3d" font-size="8.2"><text x="395.40" y="175.10" text-anchor="end">0</text><text x="395.40" y="151.10" text-anchor="end">2</text><text x="395.40" y="127.10" text-anchor="end">4</text><text x="395.40" y="103.10" text-anchor="end">6</text><text x="395.40" y="79.10" text-anchor="end">8</text><text x="395.40" y="55.10" text-anchor="end">10</text><text x="395.30" y="185.30" text-anchor="end">1</text><text x="428.96" y="203.84" text-anchor="end">0.8</text><text x="462.62" y="222.38" text-anchor="end">0.6</text><text x="496.28" y="240.92" text-anchor="end">0.4</text><text x="509.58" y="241.42">0</text><text x="575.78" y="220.37">5</text><text x="641.98" y="199.32">10</text></g>
<rect x="294.00" y="11.8" width="13.8" height="217.9" fill="url(#jetg)" stroke="#4a4a4a" stroke-width="0.5"/>
<line x1="305.80" y1="208.33" x2="307.80" y2="208.33" stroke="#555" stroke-width="0.5"/>
<line x1="305.80" y1="186.66" x2="307.80" y2="186.66" stroke="#555" stroke-width="0.5"/>
<line x1="305.80" y1="164.99" x2="307.80" y2="164.99" stroke="#555" stroke-width="0.5"/>
<line x1="305.80" y1="143.32" x2="307.80" y2="143.32" stroke="#555" stroke-width="0.5"/>
<line x1="305.80" y1="121.65" x2="307.80" y2="121.65" stroke="#555" stroke-width="0.5"/>
<line x1="305.80" y1="99.98" x2="307.80" y2="99.98" stroke="#555" stroke-width="0.5"/>
<line x1="305.80" y1="78.31" x2="307.80" y2="78.31" stroke="#555" stroke-width="0.5"/>
<line x1="305.80" y1="56.64" x2="307.80" y2="56.64" stroke="#555" stroke-width="0.5"/>
<line x1="305.80" y1="34.97" x2="307.80" y2="34.97" stroke="#555" stroke-width="0.5"/>
<line x1="305.80" y1="13.30" x2="307.80" y2="13.30" stroke="#555" stroke-width="0.5"/>
<g fill="#3d3d3d" font-size="8.0"><text x="311.50" y="211.13">1</text><text x="311.50" y="189.46">2</text><text x="311.50" y="167.79">3</text><text x="311.50" y="146.12">4</text><text x="311.50" y="124.45">5</text><text x="311.50" y="102.78">6</text><text x="311.50" y="81.11">7</text><text x="311.50" y="59.44">8</text><text x="311.50" y="37.77">9</text><text x="311.50" y="16.10">10</text></g>
<rect x="659.70" y="11.8" width="13.8" height="217.9" fill="url(#jetg)" stroke="#4a4a4a" stroke-width="0.5"/>
<line x1="671.50" y1="208.33" x2="673.50" y2="208.33" stroke="#555" stroke-width="0.5"/>
<line x1="671.50" y1="186.66" x2="673.50" y2="186.66" stroke="#555" stroke-width="0.5"/>
<line x1="671.50" y1="164.99" x2="673.50" y2="164.99" stroke="#555" stroke-width="0.5"/>
<line x1="671.50" y1="143.32" x2="673.50" y2="143.32" stroke="#555" stroke-width="0.5"/>
<line x1="671.50" y1="121.65" x2="673.50" y2="121.65" stroke="#555" stroke-width="0.5"/>
<line x1="671.50" y1="99.98" x2="673.50" y2="99.98" stroke="#555" stroke-width="0.5"/>
<line x1="671.50" y1="78.31" x2="673.50" y2="78.31" stroke="#555" stroke-width="0.5"/>
<line x1="671.50" y1="56.64" x2="673.50" y2="56.64" stroke="#555" stroke-width="0.5"/>
<line x1="671.50" y1="34.97" x2="673.50" y2="34.97" stroke="#555" stroke-width="0.5"/>
<line x1="671.50" y1="13.30" x2="673.50" y2="13.30" stroke="#555" stroke-width="0.5"/>
<g fill="#3d3d3d" font-size="8.0"><text x="677.20" y="211.13">1</text><text x="677.20" y="189.46">2</text><text x="677.20" y="167.79">3</text><text x="677.20" y="146.12">4</text><text x="677.20" y="124.45">5</text><text x="677.20" y="102.78">6</text><text x="677.20" y="81.11">7</text><text x="677.20" y="59.44">8</text><text x="677.20" y="37.77">9</text><text x="677.20" y="16.10">10</text></g>
<g fill="#3d3d3d">
<text x="11.20" y="41.00" font-size="9.6">&#215;</text><text x="17.60" y="41.00" font-size="8.2">10</text><text x="27.30" y="36.50" font-size="6.8">-5</text>
<text x="306.90" y="8.40" font-size="9.6">&#215;</text><text x="313.30" y="8.40" font-size="8.2">10</text><text x="323.00" y="3.90" font-size="6.8">-6</text>
<text transform="translate(9.00,116.4) rotate(-90)" text-anchor="middle" font-size="9.2">A<tspan font-size="6.3" dx="2.6" dy="3.2">&#946;</tspan><tspan dy="-3.2">(t)</tspan></text>
<text x="80.60" y="240.6" font-family="Liberation Serif, serif" font-style="italic" font-size="10.4">&#963;</text>
<text x="196.40" y="243.9" font-size="9.4">Time</text>
<text transform="translate(375.90,116.4) rotate(-90)" text-anchor="middle" font-size="9.2">A<tspan font-size="6.3" dx="2.6" dy="3.2">&#946;</tspan><tspan dy="-3.2">(t)</tspan></text>
<text x="446.40" y="240.6" font-family="Liberation Serif, serif" font-style="italic" font-size="10.4">&#963;</text>
<text x="560.00" y="243.9" font-size="9.4">Time</text>
</g>
<g font-family="Liberation Serif, serif" font-size="14" fill="#000" text-anchor="middle"><text x="166.8" y="282.5">(a)</text><text x="524.8" y="282.5">(b)</text></g>
</svg>
</body></html>
